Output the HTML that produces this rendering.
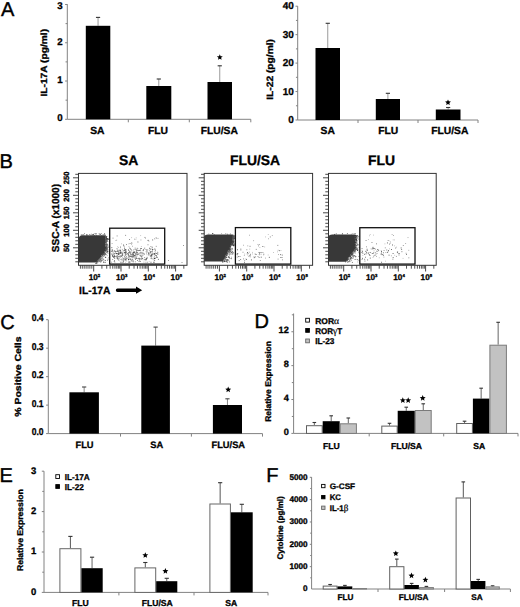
<!DOCTYPE html>
<html><head><meta charset="utf-8"><style>
html,body{margin:0;padding:0;background:#fff;}
svg{display:block;font-family:"Liberation Sans",sans-serif;}
text[font-weight="bold"]{stroke:#000;stroke-width:0.3px;}
text[font-weight="normal"]{stroke:#000;stroke-width:0.4px;}
text.r{stroke-width:0.32px;}
</style></head><body>
<svg width="520" height="607" viewBox="0 0 520 607" text-rendering="geometricPrecision">
<rect width="520" height="607" fill="#fff"/>
<text x="0.9" y="15.8" font-size="20" text-anchor="start" font-weight="normal" fill="#000">A</text>
<line x1="67.3" y1="4.2" x2="67.3" y2="119.3" stroke="#828282" stroke-width="1"/>
<line x1="65.1" y1="119.3" x2="67.3" y2="119.3" stroke="#828282" stroke-width="1"/>
<line x1="65.1" y1="81.03" x2="67.3" y2="81.03" stroke="#828282" stroke-width="1"/>
<line x1="65.1" y1="42.76" x2="67.3" y2="42.76" stroke="#828282" stroke-width="1"/>
<line x1="65.1" y1="4.49" x2="67.3" y2="4.49" stroke="#828282" stroke-width="1"/>
<line x1="65.54" y1="100.16" x2="67.3" y2="100.16" stroke="#828282" stroke-width="1"/>
<line x1="65.54" y1="61.89" x2="67.3" y2="61.89" stroke="#828282" stroke-width="1"/>
<line x1="65.54" y1="23.62" x2="67.3" y2="23.62" stroke="#828282" stroke-width="1"/>
<text x="62.6" y="121.47" font-size="9.7" text-anchor="end" font-weight="bold" fill="#000">0</text>
<text x="62.6" y="83.2" font-size="9.7" text-anchor="end" font-weight="bold" fill="#000">1</text>
<text x="62.6" y="44.93" font-size="9.7" text-anchor="end" font-weight="bold" fill="#000">2</text>
<text x="62.6" y="8.66" font-size="9.7" text-anchor="end" font-weight="bold" fill="#000">3</text>
<line x1="67.3" y1="119.3" x2="250.8" y2="119.3" stroke="#828282" stroke-width="1"/>
<line x1="128.3" y1="119.3" x2="128.3" y2="122.3" stroke="#828282" stroke-width="1"/>
<line x1="189.3" y1="119.3" x2="189.3" y2="122.3" stroke="#828282" stroke-width="1"/>
<line x1="250.8" y1="119.3" x2="250.8" y2="122.3" stroke="#828282" stroke-width="1"/>
<line x1="98.05" y1="17.4" x2="98.05" y2="25.8" stroke="#9a9a9a" stroke-width="1"/>
<line x1="95.95" y1="17.4" x2="100.15" y2="17.4" stroke="#333" stroke-width="1.1"/>
<rect x="85.8" y="25.8" width="24.5" height="93.5" fill="#000"/>
<line x1="158.8" y1="79" x2="158.8" y2="86" stroke="#9a9a9a" stroke-width="1"/>
<line x1="156.7" y1="79" x2="160.9" y2="79" stroke="#333" stroke-width="1.1"/>
<rect x="146.3" y="86" width="25" height="33.3" fill="#000"/>
<line x1="219.75" y1="65.8" x2="219.75" y2="82" stroke="#9a9a9a" stroke-width="1"/>
<line x1="217.65" y1="65.8" x2="221.85" y2="65.8" stroke="#333" stroke-width="1.1"/>
<rect x="207.5" y="82" width="24.5" height="37.3" fill="#000"/>
<polygon points="219.8,54.2 220.62,56.17 222.75,56.34 221.13,57.73 221.62,59.81 219.8,58.7 217.98,59.81 218.47,57.73 216.85,56.34 218.98,56.17" fill="#000"/>
<text x="97.3" y="133.6" font-size="10.3" text-anchor="middle" font-weight="bold" fill="#000">SA</text>
<text x="158.05" y="133.6" font-size="10.3" text-anchor="middle" font-weight="bold" fill="#000">FLU</text>
<text x="219.25" y="133.6" font-size="10.3" text-anchor="middle" font-weight="bold" fill="#000">FLU/SA</text>
<text class="r" transform="translate(47.4,62.75) rotate(-90)" font-size="9.0" text-anchor="middle" font-weight="bold" textLength="67.6" lengthAdjust="spacingAndGlyphs">IL-17A (pg/ml)</text>
<line x1="297.7" y1="6.2" x2="297.7" y2="120" stroke="#828282" stroke-width="1"/>
<line x1="295.5" y1="120" x2="297.7" y2="120" stroke="#828282" stroke-width="1"/>
<line x1="295.5" y1="91.55" x2="297.7" y2="91.55" stroke="#828282" stroke-width="1"/>
<line x1="295.5" y1="63.1" x2="297.7" y2="63.1" stroke="#828282" stroke-width="1"/>
<line x1="295.5" y1="34.65" x2="297.7" y2="34.65" stroke="#828282" stroke-width="1"/>
<line x1="295.5" y1="6.2" x2="297.7" y2="6.2" stroke="#828282" stroke-width="1"/>
<line x1="295.94" y1="105.78" x2="297.7" y2="105.78" stroke="#828282" stroke-width="1"/>
<line x1="295.94" y1="77.32" x2="297.7" y2="77.32" stroke="#828282" stroke-width="1"/>
<line x1="295.94" y1="48.88" x2="297.7" y2="48.88" stroke="#828282" stroke-width="1"/>
<line x1="295.94" y1="20.42" x2="297.7" y2="20.42" stroke="#828282" stroke-width="1"/>
<text x="293.9" y="123.18" font-size="10" text-anchor="end" font-weight="bold" fill="#000">0</text>
<text x="293.9" y="94.73" font-size="10" text-anchor="end" font-weight="bold" fill="#000">10</text>
<text x="293.9" y="66.28" font-size="10" text-anchor="end" font-weight="bold" fill="#000">20</text>
<text x="293.9" y="37.83" font-size="10" text-anchor="end" font-weight="bold" fill="#000">30</text>
<text x="293.9" y="9.38" font-size="10" text-anchor="end" font-weight="bold" fill="#000">40</text>
<line x1="297.7" y1="120" x2="478" y2="120" stroke="#828282" stroke-width="1"/>
<line x1="358" y1="120" x2="358" y2="123" stroke="#828282" stroke-width="1"/>
<line x1="418" y1="120" x2="418" y2="123" stroke="#828282" stroke-width="1"/>
<line x1="478" y1="120" x2="478" y2="123" stroke="#828282" stroke-width="1"/>
<line x1="327.75" y1="23.3" x2="327.75" y2="48" stroke="#9a9a9a" stroke-width="1"/>
<line x1="325.65" y1="23.3" x2="329.85" y2="23.3" stroke="#333" stroke-width="1.1"/>
<rect x="315.5" y="48" width="24.5" height="72" fill="#000"/>
<line x1="387.9" y1="93.3" x2="387.9" y2="99" stroke="#9a9a9a" stroke-width="1"/>
<line x1="385.8" y1="93.3" x2="390" y2="93.3" stroke="#333" stroke-width="1.1"/>
<rect x="375.8" y="99" width="24.2" height="21" fill="#000"/>
<line x1="448.15" y1="107.5" x2="448.15" y2="109.5" stroke="#9a9a9a" stroke-width="1"/>
<line x1="446.05" y1="107.5" x2="450.25" y2="107.5" stroke="#333" stroke-width="1.1"/>
<rect x="435.8" y="109.5" width="24.7" height="10.5" fill="#000"/>
<polygon points="448,99.4 448.82,101.37 450.95,101.54 449.33,102.93 449.82,105.01 448,103.9 446.18,105.01 446.67,102.93 445.05,101.54 447.18,101.37" fill="#000"/>
<text x="327.7" y="133.9" font-size="10.3" text-anchor="middle" font-weight="bold" fill="#000">SA</text>
<text x="388.3" y="133.9" font-size="10.3" text-anchor="middle" font-weight="bold" fill="#000">FLU</text>
<text x="449.75" y="133.9" font-size="10.3" text-anchor="middle" font-weight="bold" fill="#000">FLU/SA</text>
<text class="r" transform="translate(273.4,69.4) rotate(-90)" font-size="9.2" text-anchor="middle" font-weight="bold" textLength="60.8" lengthAdjust="spacingAndGlyphs">IL-22 (pg/ml)</text>
<text x="-0.4" y="167.7" font-size="20" text-anchor="start" font-weight="normal" fill="#000">B</text>
<line x1="75.3" y1="261.8" x2="78.5" y2="261.8" stroke="#333" stroke-width="0.9"/>
<line x1="75.3" y1="258.3" x2="78.5" y2="258.3" stroke="#333" stroke-width="0.9"/>
<line x1="75.3" y1="254.8" x2="78.5" y2="254.8" stroke="#333" stroke-width="0.9"/>
<line x1="75.3" y1="251.3" x2="78.5" y2="251.3" stroke="#333" stroke-width="0.9"/>
<line x1="73" y1="247.8" x2="78.5" y2="247.8" stroke="#333" stroke-width="0.9"/>
<line x1="75.3" y1="244.3" x2="78.5" y2="244.3" stroke="#333" stroke-width="0.9"/>
<line x1="75.3" y1="240.8" x2="78.5" y2="240.8" stroke="#333" stroke-width="0.9"/>
<line x1="75.3" y1="237.3" x2="78.5" y2="237.3" stroke="#333" stroke-width="0.9"/>
<line x1="75.3" y1="233.8" x2="78.5" y2="233.8" stroke="#333" stroke-width="0.9"/>
<line x1="73" y1="230.3" x2="78.5" y2="230.3" stroke="#333" stroke-width="0.9"/>
<line x1="75.3" y1="226.8" x2="78.5" y2="226.8" stroke="#333" stroke-width="0.9"/>
<line x1="75.3" y1="223.3" x2="78.5" y2="223.3" stroke="#333" stroke-width="0.9"/>
<line x1="75.3" y1="219.8" x2="78.5" y2="219.8" stroke="#333" stroke-width="0.9"/>
<line x1="75.3" y1="216.3" x2="78.5" y2="216.3" stroke="#333" stroke-width="0.9"/>
<line x1="73" y1="212.8" x2="78.5" y2="212.8" stroke="#333" stroke-width="0.9"/>
<line x1="75.3" y1="209.3" x2="78.5" y2="209.3" stroke="#333" stroke-width="0.9"/>
<line x1="75.3" y1="205.8" x2="78.5" y2="205.8" stroke="#333" stroke-width="0.9"/>
<line x1="75.3" y1="202.3" x2="78.5" y2="202.3" stroke="#333" stroke-width="0.9"/>
<line x1="75.3" y1="198.8" x2="78.5" y2="198.8" stroke="#333" stroke-width="0.9"/>
<line x1="73" y1="195.3" x2="78.5" y2="195.3" stroke="#333" stroke-width="0.9"/>
<line x1="75.3" y1="191.8" x2="78.5" y2="191.8" stroke="#333" stroke-width="0.9"/>
<line x1="75.3" y1="188.3" x2="78.5" y2="188.3" stroke="#333" stroke-width="0.9"/>
<line x1="75.3" y1="184.8" x2="78.5" y2="184.8" stroke="#333" stroke-width="0.9"/>
<line x1="75.3" y1="181.3" x2="78.5" y2="181.3" stroke="#333" stroke-width="0.9"/>
<line x1="73" y1="177.8" x2="78.5" y2="177.8" stroke="#333" stroke-width="0.9"/>
<line x1="75.3" y1="174.3" x2="78.5" y2="174.3" stroke="#333" stroke-width="0.9"/>
<line x1="93.7" y1="265.3" x2="93.7" y2="271.5" stroke="#333" stroke-width="0.9"/>
<line x1="101.92" y1="265.3" x2="101.92" y2="268.7" stroke="#333" stroke-width="0.85"/>
<line x1="106.73" y1="265.3" x2="106.73" y2="268.7" stroke="#333" stroke-width="0.85"/>
<line x1="110.14" y1="265.3" x2="110.14" y2="268.7" stroke="#333" stroke-width="0.85"/>
<line x1="112.78" y1="265.3" x2="112.78" y2="268.7" stroke="#333" stroke-width="0.85"/>
<line x1="114.94" y1="265.3" x2="114.94" y2="268.7" stroke="#333" stroke-width="0.85"/>
<line x1="116.77" y1="265.3" x2="116.77" y2="268.7" stroke="#333" stroke-width="0.85"/>
<line x1="118.35" y1="265.3" x2="118.35" y2="268.7" stroke="#333" stroke-width="0.85"/>
<line x1="119.75" y1="265.3" x2="119.75" y2="268.7" stroke="#333" stroke-width="0.85"/>
<line x1="121" y1="265.3" x2="121" y2="271.5" stroke="#333" stroke-width="0.9"/>
<line x1="129.22" y1="265.3" x2="129.22" y2="268.7" stroke="#333" stroke-width="0.85"/>
<line x1="134.03" y1="265.3" x2="134.03" y2="268.7" stroke="#333" stroke-width="0.85"/>
<line x1="137.44" y1="265.3" x2="137.44" y2="268.7" stroke="#333" stroke-width="0.85"/>
<line x1="140.08" y1="265.3" x2="140.08" y2="268.7" stroke="#333" stroke-width="0.85"/>
<line x1="142.24" y1="265.3" x2="142.24" y2="268.7" stroke="#333" stroke-width="0.85"/>
<line x1="144.07" y1="265.3" x2="144.07" y2="268.7" stroke="#333" stroke-width="0.85"/>
<line x1="145.65" y1="265.3" x2="145.65" y2="268.7" stroke="#333" stroke-width="0.85"/>
<line x1="147.05" y1="265.3" x2="147.05" y2="268.7" stroke="#333" stroke-width="0.85"/>
<line x1="148.3" y1="265.3" x2="148.3" y2="271.5" stroke="#333" stroke-width="0.9"/>
<line x1="156.52" y1="265.3" x2="156.52" y2="268.7" stroke="#333" stroke-width="0.85"/>
<line x1="161.33" y1="265.3" x2="161.33" y2="268.7" stroke="#333" stroke-width="0.85"/>
<line x1="164.74" y1="265.3" x2="164.74" y2="268.7" stroke="#333" stroke-width="0.85"/>
<line x1="167.38" y1="265.3" x2="167.38" y2="268.7" stroke="#333" stroke-width="0.85"/>
<line x1="169.54" y1="265.3" x2="169.54" y2="268.7" stroke="#333" stroke-width="0.85"/>
<line x1="171.37" y1="265.3" x2="171.37" y2="268.7" stroke="#333" stroke-width="0.85"/>
<line x1="172.95" y1="265.3" x2="172.95" y2="268.7" stroke="#333" stroke-width="0.85"/>
<line x1="174.35" y1="265.3" x2="174.35" y2="268.7" stroke="#333" stroke-width="0.85"/>
<line x1="175.6" y1="265.3" x2="175.6" y2="271.5" stroke="#333" stroke-width="0.9"/>
<line x1="183.82" y1="265.3" x2="183.82" y2="268.7" stroke="#333" stroke-width="0.85"/>
<line x1="91.8" y1="265.3" x2="91.8" y2="268.7" stroke="#333" stroke-width="0.85"/>
<line x1="89.9" y1="265.3" x2="89.9" y2="268.7" stroke="#333" stroke-width="0.85"/>
<line x1="88" y1="265.3" x2="88" y2="268.7" stroke="#333" stroke-width="0.85"/>
<line x1="86.1" y1="265.3" x2="86.1" y2="268.7" stroke="#333" stroke-width="0.85"/>
<line x1="84.2" y1="265.3" x2="84.2" y2="268.7" stroke="#333" stroke-width="0.85"/>
<line x1="82.3" y1="265.3" x2="82.3" y2="268.7" stroke="#333" stroke-width="0.85"/>
<line x1="80.4" y1="265.3" x2="80.4" y2="268.7" stroke="#333" stroke-width="0.85"/>
<text x="88.7" y="279.7" font-size="8.2" font-weight="bold">10<tspan font-size="4.3" dy="-2.6">2</tspan></text>
<text x="116" y="279.7" font-size="8.2" font-weight="bold">10<tspan font-size="4.3" dy="-2.6">3</tspan></text>
<text x="143.3" y="279.7" font-size="8.2" font-weight="bold">10<tspan font-size="4.3" dy="-2.6">4</tspan></text>
<text x="170.6" y="279.7" font-size="8.2" font-weight="bold">10<tspan font-size="4.3" dy="-2.6">5</tspan></text>
<text class="r" transform="translate(68.5,247.8) rotate(-90)" font-size="7.6" text-anchor="middle" font-weight="bold">50</text>
<text class="r" transform="translate(68.5,230.3) rotate(-90)" font-size="7.6" text-anchor="middle" font-weight="bold">100</text>
<text class="r" transform="translate(68.5,212.8) rotate(-90)" font-size="7.6" text-anchor="middle" font-weight="bold">150</text>
<text class="r" transform="translate(68.5,195.3) rotate(-90)" font-size="7.6" text-anchor="middle" font-weight="bold">200</text>
<text class="r" transform="translate(68.5,177.8) rotate(-90)" font-size="7.6" text-anchor="middle" font-weight="bold">250</text>
<path d="M78.6,262.6 L78.6,237.5 Q79.4,235.5 83,235.3 L105.1,235.3 Q106.3,235.3 106.3,236.5 L106.3,250.3 L96.8,262.6 Z" fill="#383838"/>
<rect x="105.89" y="242.3" width="0.8" height="0.8" fill="#666"/>
<rect x="99.19" y="260.81" width="0.8" height="0.8" fill="#333"/>
<rect x="107.05" y="252.33" width="0.8" height="0.8" fill="#888"/>
<rect x="105.37" y="242.88" width="0.8" height="0.8" fill="#888"/>
<rect x="105.74" y="250.57" width="0.8" height="0.8" fill="#888"/>
<rect x="103.1" y="253.25" width="0.8" height="0.8" fill="#444"/>
<rect x="100.32" y="259.5" width="0.8" height="0.8" fill="#333"/>
<rect x="102.27" y="254.13" width="0.8" height="0.8" fill="#333"/>
<rect x="105.13" y="244.02" width="0.8" height="0.8" fill="#666"/>
<rect x="106.37" y="248.71" width="0.8" height="0.8" fill="#888"/>
<rect x="106.72" y="255.3" width="0.8" height="0.8" fill="#888"/>
<rect x="102.88" y="255.68" width="0.8" height="0.8" fill="#444"/>
<rect x="98.1" y="259.79" width="0.8" height="0.8" fill="#444"/>
<rect x="105.4" y="249.31" width="0.8" height="0.8" fill="#888"/>
<rect x="104.84" y="257.07" width="0.8" height="0.8" fill="#888"/>
<rect x="105.59" y="249.65" width="0.8" height="0.8" fill="#666"/>
<rect x="105.57" y="250.38" width="0.8" height="0.8" fill="#444"/>
<rect x="101.08" y="260.48" width="0.8" height="0.8" fill="#333"/>
<rect x="102.48" y="254.13" width="0.8" height="0.8" fill="#666"/>
<rect x="104.76" y="262.13" width="0.8" height="0.8" fill="#333"/>
<rect x="101.76" y="255.29" width="0.8" height="0.8" fill="#666"/>
<rect x="105.17" y="243.58" width="0.8" height="0.8" fill="#888"/>
<rect x="106.71" y="238.22" width="0.8" height="0.8" fill="#888"/>
<rect x="97.45" y="260.29" width="0.8" height="0.8" fill="#888"/>
<rect x="105.25" y="256.79" width="0.8" height="0.8" fill="#333"/>
<rect x="105.65" y="252.32" width="0.8" height="0.8" fill="#888"/>
<rect x="102.03" y="255.41" width="0.8" height="0.8" fill="#666"/>
<rect x="105.18" y="244.25" width="0.8" height="0.8" fill="#333"/>
<rect x="105.41" y="243.76" width="0.8" height="0.8" fill="#333"/>
<rect x="97.23" y="262.55" width="0.8" height="0.8" fill="#666"/>
<rect x="104.49" y="261.97" width="0.8" height="0.8" fill="#888"/>
<rect x="107.14" y="246.09" width="0.8" height="0.8" fill="#888"/>
<rect x="104.27" y="253.38" width="0.8" height="0.8" fill="#333"/>
<rect x="107.64" y="252.73" width="0.8" height="0.8" fill="#666"/>
<rect x="106.37" y="247.57" width="0.8" height="0.8" fill="#444"/>
<rect x="98.6" y="261.36" width="0.8" height="0.8" fill="#666"/>
<rect x="105.9" y="250.03" width="0.8" height="0.8" fill="#333"/>
<rect x="105.57" y="244.4" width="0.8" height="0.8" fill="#444"/>
<rect x="106.09" y="237.44" width="0.8" height="0.8" fill="#888"/>
<rect x="107.59" y="245.43" width="0.8" height="0.8" fill="#666"/>
<rect x="100.79" y="255.95" width="0.8" height="0.8" fill="#333"/>
<rect x="96.25" y="261.87" width="0.8" height="0.8" fill="#666"/>
<rect x="105.71" y="242.66" width="0.8" height="0.8" fill="#666"/>
<rect x="105.3" y="240.64" width="0.8" height="0.8" fill="#666"/>
<rect x="99.42" y="258.84" width="0.8" height="0.8" fill="#888"/>
<rect x="106.78" y="238.66" width="0.8" height="0.8" fill="#444"/>
<rect x="105.35" y="244.26" width="0.8" height="0.8" fill="#666"/>
<rect x="105.31" y="242.32" width="0.8" height="0.8" fill="#888"/>
<rect x="102.78" y="253.53" width="0.8" height="0.8" fill="#666"/>
<rect x="100.38" y="261.71" width="0.8" height="0.8" fill="#444"/>
<rect x="107.03" y="247.77" width="0.8" height="0.8" fill="#444"/>
<rect x="106.46" y="237.98" width="0.8" height="0.8" fill="#444"/>
<rect x="99.58" y="259.96" width="0.8" height="0.8" fill="#444"/>
<rect x="99.8" y="257.29" width="0.8" height="0.8" fill="#444"/>
<rect x="106.91" y="244.4" width="0.8" height="0.8" fill="#444"/>
<rect x="99.38" y="259.38" width="0.8" height="0.8" fill="#333"/>
<rect x="100.46" y="257.81" width="0.8" height="0.8" fill="#444"/>
<rect x="105.83" y="247.3" width="0.8" height="0.8" fill="#666"/>
<rect x="106.11" y="248.49" width="0.8" height="0.8" fill="#666"/>
<rect x="105.63" y="247.26" width="0.8" height="0.8" fill="#888"/>
<rect x="105.1" y="240.06" width="0.8" height="0.8" fill="#888"/>
<rect x="101.25" y="255.38" width="0.8" height="0.8" fill="#888"/>
<rect x="101.85" y="258.64" width="0.8" height="0.8" fill="#666"/>
<rect x="107.21" y="250.65" width="0.8" height="0.8" fill="#333"/>
<rect x="105.38" y="239.08" width="0.8" height="0.8" fill="#333"/>
<rect x="101.22" y="260.47" width="0.8" height="0.8" fill="#444"/>
<rect x="105.01" y="260.28" width="0.8" height="0.8" fill="#333"/>
<rect x="106.47" y="236.16" width="0.8" height="0.8" fill="#444"/>
<rect x="105.37" y="249.54" width="0.8" height="0.8" fill="#333"/>
<rect x="105.63" y="250.13" width="0.8" height="0.8" fill="#333"/>
<rect x="105.39" y="245.12" width="0.8" height="0.8" fill="#888"/>
<rect x="99.36" y="257.96" width="0.8" height="0.8" fill="#444"/>
<rect x="105.86" y="241.19" width="0.8" height="0.8" fill="#333"/>
<rect x="106.67" y="240.48" width="0.8" height="0.8" fill="#444"/>
<rect x="98.96" y="258.28" width="0.8" height="0.8" fill="#888"/>
<rect x="105.42" y="237.16" width="0.8" height="0.8" fill="#666"/>
<rect x="104.4" y="252.67" width="0.8" height="0.8" fill="#333"/>
<rect x="106.6" y="248.71" width="0.8" height="0.8" fill="#333"/>
<rect x="102.8" y="259.2" width="0.8" height="0.8" fill="#333"/>
<rect x="105.17" y="239.2" width="0.8" height="0.8" fill="#333"/>
<rect x="98.56" y="259.13" width="0.8" height="0.8" fill="#888"/>
<rect x="105.48" y="244.42" width="0.8" height="0.8" fill="#666"/>
<rect x="105.59" y="246.33" width="0.8" height="0.8" fill="#666"/>
<rect x="105.31" y="245.65" width="0.8" height="0.8" fill="#666"/>
<rect x="105.24" y="247.5" width="0.8" height="0.8" fill="#333"/>
<rect x="102.24" y="255.35" width="0.8" height="0.8" fill="#333"/>
<rect x="104.4" y="251.27" width="0.8" height="0.8" fill="#888"/>
<rect x="105.79" y="252.3" width="0.8" height="0.8" fill="#888"/>
<rect x="102.95" y="253.18" width="0.8" height="0.8" fill="#888"/>
<rect x="106.09" y="237.25" width="0.8" height="0.8" fill="#666"/>
<rect x="106.28" y="247.28" width="0.8" height="0.8" fill="#888"/>
<rect x="105.35" y="236.29" width="0.8" height="0.8" fill="#666"/>
<rect x="101.79" y="254.78" width="0.8" height="0.8" fill="#888"/>
<rect x="105.24" y="241.93" width="0.8" height="0.8" fill="#333"/>
<rect x="98.22" y="261.37" width="0.8" height="0.8" fill="#666"/>
<rect x="106.27" y="239.12" width="0.8" height="0.8" fill="#888"/>
<rect x="104.69" y="254.02" width="0.8" height="0.8" fill="#333"/>
<rect x="102.68" y="257.96" width="0.8" height="0.8" fill="#888"/>
<rect x="106.59" y="239.72" width="0.8" height="0.8" fill="#333"/>
<rect x="105.93" y="250.19" width="0.8" height="0.8" fill="#888"/>
<rect x="105.12" y="240.69" width="0.8" height="0.8" fill="#333"/>
<rect x="105.22" y="236.5" width="0.8" height="0.8" fill="#888"/>
<rect x="107.59" y="258.63" width="0.8" height="0.8" fill="#666"/>
<rect x="99.56" y="257.61" width="0.8" height="0.8" fill="#444"/>
<rect x="106.48" y="238.71" width="0.8" height="0.8" fill="#333"/>
<rect x="106.98" y="250.82" width="0.8" height="0.8" fill="#444"/>
<rect x="99.64" y="258.41" width="0.8" height="0.8" fill="#444"/>
<rect x="103.72" y="253.44" width="0.8" height="0.8" fill="#888"/>
<rect x="106.01" y="242.7" width="0.8" height="0.8" fill="#666"/>
<rect x="108.5" y="251" width="0.8" height="0.8" fill="#888"/>
<rect x="108.71" y="249.46" width="0.8" height="0.8" fill="#888"/>
<rect x="108.67" y="258.83" width="0.8" height="0.8" fill="#888"/>
<rect x="104.57" y="254.66" width="0.8" height="0.8" fill="#888"/>
<rect x="105.61" y="240.06" width="0.8" height="0.8" fill="#444"/>
<rect x="105.79" y="240.24" width="0.8" height="0.8" fill="#888"/>
<rect x="99.48" y="260.82" width="0.8" height="0.8" fill="#888"/>
<rect x="106.57" y="251.81" width="0.8" height="0.8" fill="#444"/>
<rect x="105.32" y="243.1" width="0.8" height="0.8" fill="#666"/>
<rect x="103.37" y="261.32" width="0.8" height="0.8" fill="#666"/>
<rect x="105.79" y="254.13" width="0.8" height="0.8" fill="#666"/>
<rect x="98.74" y="260.08" width="0.8" height="0.8" fill="#666"/>
<rect x="105.58" y="248.89" width="0.8" height="0.8" fill="#444"/>
<rect x="104.62" y="251.36" width="0.8" height="0.8" fill="#888"/>
<rect x="100.37" y="256.94" width="0.8" height="0.8" fill="#888"/>
<rect x="101.99" y="254.95" width="0.8" height="0.8" fill="#333"/>
<rect x="106.38" y="248.94" width="0.8" height="0.8" fill="#888"/>
<rect x="105.33" y="257.18" width="0.8" height="0.8" fill="#333"/>
<rect x="105.36" y="248.56" width="0.8" height="0.8" fill="#444"/>
<rect x="105.25" y="253.5" width="0.8" height="0.8" fill="#333"/>
<rect x="103.21" y="261.97" width="0.8" height="0.8" fill="#444"/>
<rect x="102.42" y="260.1" width="0.8" height="0.8" fill="#444"/>
<rect x="106.32" y="240.91" width="0.8" height="0.8" fill="#333"/>
<rect x="98.31" y="260.36" width="0.8" height="0.8" fill="#333"/>
<rect x="105.65" y="244.36" width="0.8" height="0.8" fill="#333"/>
<rect x="105.41" y="239.02" width="0.8" height="0.8" fill="#666"/>
<rect x="105.7" y="236.79" width="0.8" height="0.8" fill="#666"/>
<rect x="105.51" y="235.99" width="0.8" height="0.8" fill="#888"/>
<rect x="105.18" y="246.17" width="0.8" height="0.8" fill="#888"/>
<rect x="105.89" y="246.47" width="0.8" height="0.8" fill="#333"/>
<rect x="97.93" y="259.92" width="0.8" height="0.8" fill="#888"/>
<rect x="107.28" y="238.87" width="0.8" height="0.8" fill="#666"/>
<rect x="107.94" y="238.45" width="0.8" height="0.8" fill="#666"/>
<rect x="102.88" y="254.32" width="0.8" height="0.8" fill="#888"/>
<rect x="106.23" y="243.87" width="0.8" height="0.8" fill="#666"/>
<rect x="107.99" y="238.73" width="0.8" height="0.8" fill="#666"/>
<rect x="103.57" y="254.17" width="0.8" height="0.8" fill="#333"/>
<rect x="103.56" y="254.01" width="0.8" height="0.8" fill="#333"/>
<rect x="103.63" y="255.4" width="0.8" height="0.8" fill="#444"/>
<rect x="104.94" y="253.43" width="0.8" height="0.8" fill="#444"/>
<rect x="107.31" y="240.69" width="0.8" height="0.8" fill="#888"/>
<rect x="107.79" y="239.16" width="0.8" height="0.8" fill="#444"/>
<rect x="100.47" y="260.94" width="0.8" height="0.8" fill="#888"/>
<rect x="105.8" y="250.95" width="0.8" height="0.8" fill="#888"/>
<rect x="106.62" y="248.97" width="0.8" height="0.8" fill="#333"/>
<rect x="105.3" y="238.73" width="0.8" height="0.8" fill="#888"/>
<rect x="105.41" y="245.61" width="0.8" height="0.8" fill="#888"/>
<rect x="105.25" y="237.26" width="0.8" height="0.8" fill="#888"/>
<rect x="105.38" y="249.58" width="0.8" height="0.8" fill="#666"/>
<rect x="107.06" y="259.69" width="0.8" height="0.8" fill="#888"/>
<rect x="106.46" y="250.58" width="0.8" height="0.8" fill="#666"/>
<rect x="105.99" y="239.94" width="0.8" height="0.8" fill="#333"/>
<rect x="107.31" y="251.21" width="0.8" height="0.8" fill="#333"/>
<rect x="105.31" y="240.85" width="0.8" height="0.8" fill="#888"/>
<rect x="103.1" y="254.1" width="0.8" height="0.8" fill="#444"/>
<rect x="104.04" y="251.96" width="0.8" height="0.8" fill="#888"/>
<rect x="101.59" y="257.59" width="0.8" height="0.8" fill="#444"/>
<rect x="104.59" y="251.32" width="0.8" height="0.8" fill="#666"/>
<rect x="105.45" y="245.89" width="0.8" height="0.8" fill="#888"/>
<rect x="107.28" y="260.13" width="0.8" height="0.8" fill="#888"/>
<rect x="107.47" y="244.43" width="0.8" height="0.8" fill="#666"/>
<rect x="102.53" y="254.55" width="0.8" height="0.8" fill="#888"/>
<rect x="105.31" y="236.62" width="0.8" height="0.8" fill="#333"/>
<rect x="106.51" y="238.73" width="0.8" height="0.8" fill="#444"/>
<rect x="105.84" y="249.23" width="0.8" height="0.8" fill="#888"/>
<rect x="106.62" y="241.23" width="0.8" height="0.8" fill="#444"/>
<rect x="105.79" y="236.81" width="0.8" height="0.8" fill="#888"/>
<rect x="105.43" y="238.85" width="0.8" height="0.8" fill="#444"/>
<rect x="106.67" y="239.5" width="0.8" height="0.8" fill="#333"/>
<rect x="106.06" y="236.5" width="0.8" height="0.8" fill="#333"/>
<rect x="105.12" y="249.41" width="0.8" height="0.8" fill="#666"/>
<rect x="107.14" y="244.62" width="0.8" height="0.8" fill="#444"/>
<rect x="106.93" y="238" width="0.8" height="0.8" fill="#333"/>
<rect x="104.12" y="255.35" width="0.8" height="0.8" fill="#666"/>
<rect x="96.17" y="263.04" width="0.8" height="0.8" fill="#333"/>
<rect x="99.91" y="259.32" width="0.8" height="0.8" fill="#444"/>
<rect x="105.22" y="249.04" width="0.8" height="0.8" fill="#333"/>
<rect x="106.97" y="246.95" width="0.8" height="0.8" fill="#444"/>
<rect x="105.74" y="246.49" width="0.8" height="0.8" fill="#333"/>
<rect x="105.54" y="250.47" width="0.8" height="0.8" fill="#888"/>
<rect x="105.72" y="244.12" width="0.8" height="0.8" fill="#888"/>
<rect x="105.71" y="247.77" width="0.8" height="0.8" fill="#333"/>
<rect x="102.13" y="255.45" width="0.8" height="0.8" fill="#666"/>
<rect x="105.55" y="248.02" width="0.8" height="0.8" fill="#888"/>
<rect x="105.1" y="241.91" width="0.8" height="0.8" fill="#444"/>
<rect x="105.56" y="242.86" width="0.8" height="0.8" fill="#888"/>
<rect x="105.22" y="250.37" width="0.8" height="0.8" fill="#333"/>
<rect x="105.62" y="240.46" width="0.8" height="0.8" fill="#444"/>
<rect x="103.12" y="253.18" width="0.8" height="0.8" fill="#444"/>
<rect x="105.3" y="247.89" width="0.8" height="0.8" fill="#333"/>
<rect x="105.48" y="246.8" width="0.8" height="0.8" fill="#333"/>
<rect x="101.58" y="255" width="0.8" height="0.8" fill="#888"/>
<rect x="105.78" y="236.87" width="0.8" height="0.8" fill="#444"/>
<rect x="105.59" y="242.39" width="0.8" height="0.8" fill="#444"/>
<rect x="106.07" y="240.3" width="0.8" height="0.8" fill="#666"/>
<rect x="100.14" y="260.72" width="0.8" height="0.8" fill="#666"/>
<rect x="106.65" y="243.31" width="0.8" height="0.8" fill="#888"/>
<rect x="108.24" y="257.35" width="0.8" height="0.8" fill="#888"/>
<rect x="105.41" y="242.62" width="0.8" height="0.8" fill="#666"/>
<rect x="103.72" y="252.97" width="0.8" height="0.8" fill="#333"/>
<rect x="105.67" y="237.35" width="0.8" height="0.8" fill="#333"/>
<rect x="103.82" y="251.97" width="0.8" height="0.8" fill="#333"/>
<rect x="101.98" y="254.39" width="0.8" height="0.8" fill="#333"/>
<rect x="105.31" y="248.95" width="0.8" height="0.8" fill="#666"/>
<rect x="108.74" y="241.28" width="0.8" height="0.8" fill="#888"/>
<rect x="105.75" y="245.08" width="0.8" height="0.8" fill="#666"/>
<rect x="96.6" y="261.46" width="0.8" height="0.8" fill="#666"/>
<rect x="102.84" y="256.32" width="0.8" height="0.8" fill="#888"/>
<rect x="105.45" y="238.2" width="0.8" height="0.8" fill="#888"/>
<rect x="105.59" y="238.93" width="0.8" height="0.8" fill="#666"/>
<rect x="106.54" y="250.45" width="0.8" height="0.8" fill="#888"/>
<rect x="106.45" y="240.57" width="0.8" height="0.8" fill="#888"/>
<rect x="101.04" y="258.61" width="0.8" height="0.8" fill="#444"/>
<rect x="105.64" y="245.71" width="0.8" height="0.8" fill="#444"/>
<rect x="106.31" y="247.93" width="0.8" height="0.8" fill="#666"/>
<rect x="105.29" y="243.16" width="0.8" height="0.8" fill="#888"/>
<rect x="96.44" y="261.72" width="0.8" height="0.8" fill="#444"/>
<rect x="101.36" y="255.2" width="0.8" height="0.8" fill="#888"/>
<rect x="106.28" y="238.31" width="0.8" height="0.8" fill="#333"/>
<rect x="106.02" y="244.54" width="0.8" height="0.8" fill="#333"/>
<rect x="104.35" y="259.78" width="0.8" height="0.8" fill="#888"/>
<rect x="107.13" y="248.53" width="0.8" height="0.8" fill="#666"/>
<rect x="95.28" y="263.02" width="0.8" height="0.8" fill="#444"/>
<rect x="108.22" y="246.7" width="0.8" height="0.8" fill="#333"/>
<rect x="105.47" y="245.04" width="0.8" height="0.8" fill="#888"/>
<rect x="106.15" y="238.01" width="0.8" height="0.8" fill="#444"/>
<rect x="97.12" y="261.34" width="0.8" height="0.8" fill="#333"/>
<rect x="105.44" y="238.86" width="0.8" height="0.8" fill="#444"/>
<rect x="105.93" y="241.81" width="0.8" height="0.8" fill="#888"/>
<rect x="107.48" y="249.58" width="0.8" height="0.8" fill="#666"/>
<rect x="101.68" y="257.33" width="0.8" height="0.8" fill="#444"/>
<rect x="106.07" y="248.56" width="0.8" height="0.8" fill="#333"/>
<rect x="100.99" y="234.95" width="0.8" height="0.8" fill="#444"/>
<rect x="85.52" y="234.97" width="0.8" height="0.8" fill="#666"/>
<rect x="82.72" y="234.48" width="0.8" height="0.8" fill="#888"/>
<rect x="95.8" y="234.96" width="0.8" height="0.8" fill="#888"/>
<rect x="92.59" y="234.42" width="0.8" height="0.8" fill="#666"/>
<rect x="95.5" y="233.88" width="0.8" height="0.8" fill="#666"/>
<rect x="99.81" y="234.54" width="0.8" height="0.8" fill="#666"/>
<rect x="100.73" y="233.01" width="0.8" height="0.8" fill="#444"/>
<rect x="83.49" y="234.34" width="0.8" height="0.8" fill="#888"/>
<rect x="82.51" y="235.06" width="0.8" height="0.8" fill="#666"/>
<rect x="85.34" y="235.05" width="0.8" height="0.8" fill="#888"/>
<rect x="98.76" y="233.06" width="0.8" height="0.8" fill="#666"/>
<rect x="99.97" y="234.11" width="0.8" height="0.8" fill="#444"/>
<rect x="89.26" y="234.66" width="0.8" height="0.8" fill="#444"/>
<rect x="88.88" y="234.76" width="0.8" height="0.8" fill="#444"/>
<rect x="88.58" y="234.94" width="0.8" height="0.8" fill="#888"/>
<rect x="103.59" y="234.83" width="0.8" height="0.8" fill="#888"/>
<rect x="95.72" y="233.29" width="0.8" height="0.8" fill="#888"/>
<rect x="93.83" y="233.19" width="0.8" height="0.8" fill="#888"/>
<rect x="104.06" y="234.03" width="0.8" height="0.8" fill="#666"/>
<rect x="102.67" y="234.09" width="0.8" height="0.8" fill="#888"/>
<rect x="103.33" y="234.99" width="0.8" height="0.8" fill="#666"/>
<rect x="104.25" y="233.21" width="0.8" height="0.8" fill="#444"/>
<rect x="98.44" y="234.88" width="0.8" height="0.8" fill="#666"/>
<rect x="93.04" y="234.16" width="0.8" height="0.8" fill="#444"/>
<rect x="99.01" y="234.72" width="0.8" height="0.8" fill="#666"/>
<rect x="92.75" y="234.12" width="0.8" height="0.8" fill="#444"/>
<rect x="99.05" y="234.86" width="0.8" height="0.8" fill="#666"/>
<rect x="84.13" y="233.25" width="0.8" height="0.8" fill="#666"/>
<rect x="82.52" y="234.42" width="0.8" height="0.8" fill="#444"/>
<rect x="92.64" y="234.83" width="0.8" height="0.8" fill="#666"/>
<rect x="104.8" y="234.42" width="0.8" height="0.8" fill="#888"/>
<rect x="89.8" y="234.69" width="0.8" height="0.8" fill="#666"/>
<rect x="92.31" y="234.44" width="0.8" height="0.8" fill="#888"/>
<rect x="86.1" y="234.39" width="0.8" height="0.8" fill="#444"/>
<rect x="92.04" y="234.9" width="0.8" height="0.8" fill="#666"/>
<rect x="100.54" y="234.9" width="0.8" height="0.8" fill="#888"/>
<rect x="80.85" y="234.46" width="0.8" height="0.8" fill="#444"/>
<rect x="96.14" y="234.99" width="0.8" height="0.8" fill="#444"/>
<rect x="80.65" y="234.95" width="0.8" height="0.8" fill="#666"/>
<rect x="89.37" y="234.27" width="0.8" height="0.8" fill="#888"/>
<rect x="81.47" y="234.92" width="0.8" height="0.8" fill="#444"/>
<rect x="86.5" y="234.77" width="0.8" height="0.8" fill="#444"/>
<rect x="95.51" y="233.18" width="0.8" height="0.8" fill="#444"/>
<rect x="91.72" y="235" width="0.8" height="0.8" fill="#666"/>
<rect x="90.93" y="233.76" width="0.8" height="0.8" fill="#666"/>
<rect x="88.99" y="234.86" width="0.8" height="0.8" fill="#888"/>
<rect x="84.69" y="235.05" width="0.8" height="0.8" fill="#888"/>
<rect x="86.71" y="234.1" width="0.8" height="0.8" fill="#666"/>
<rect x="93.17" y="233.96" width="0.8" height="0.8" fill="#666"/>
<rect x="94.23" y="235" width="0.8" height="0.8" fill="#444"/>
<rect x="92.6" y="234.56" width="0.8" height="0.8" fill="#444"/>
<rect x="102.76" y="234.26" width="0.8" height="0.8" fill="#888"/>
<rect x="99.24" y="234.54" width="0.8" height="0.8" fill="#888"/>
<rect x="93.33" y="234.22" width="0.8" height="0.8" fill="#666"/>
<rect x="119.55" y="258.8" width="0.8" height="0.8" fill="#aaa"/>
<rect x="115.7" y="251.31" width="0.8" height="0.8" fill="#666"/>
<rect x="132.3" y="255.67" width="0.8" height="0.8" fill="#444"/>
<rect x="111.94" y="251.47" width="0.8" height="0.8" fill="#888"/>
<rect x="154.95" y="254.78" width="0.8" height="0.8" fill="#222"/>
<rect x="125.87" y="256.12" width="0.8" height="0.8" fill="#666"/>
<rect x="115.75" y="255.95" width="0.8" height="0.8" fill="#666"/>
<rect x="112.49" y="254.63" width="0.8" height="0.8" fill="#888"/>
<rect x="120.13" y="246.64" width="0.8" height="0.8" fill="#444"/>
<rect x="141.83" y="253.44" width="0.8" height="0.8" fill="#444"/>
<rect x="155.83" y="255.31" width="0.8" height="0.8" fill="#666"/>
<rect x="139.78" y="258.76" width="0.8" height="0.8" fill="#888"/>
<rect x="117.22" y="255.47" width="0.8" height="0.8" fill="#444"/>
<rect x="145.78" y="258.95" width="0.8" height="0.8" fill="#222"/>
<rect x="140.75" y="258.43" width="0.8" height="0.8" fill="#222"/>
<rect x="155.46" y="252.91" width="0.8" height="0.8" fill="#888"/>
<rect x="132.74" y="250.33" width="0.8" height="0.8" fill="#aaa"/>
<rect x="137.23" y="260.13" width="0.8" height="0.8" fill="#444"/>
<rect x="143.54" y="261.68" width="0.8" height="0.8" fill="#888"/>
<rect x="112.4" y="254.66" width="0.8" height="0.8" fill="#444"/>
<rect x="114.94" y="251.89" width="0.8" height="0.8" fill="#aaa"/>
<rect x="156.34" y="253.02" width="0.8" height="0.8" fill="#888"/>
<rect x="113.77" y="255.85" width="0.8" height="0.8" fill="#222"/>
<rect x="120.59" y="255.95" width="0.8" height="0.8" fill="#444"/>
<rect x="111.25" y="253.64" width="0.8" height="0.8" fill="#444"/>
<rect x="120.65" y="259.11" width="0.8" height="0.8" fill="#666"/>
<rect x="133.26" y="253.03" width="0.8" height="0.8" fill="#aaa"/>
<rect x="146.29" y="250.24" width="0.8" height="0.8" fill="#aaa"/>
<rect x="123.45" y="252.53" width="0.8" height="0.8" fill="#888"/>
<rect x="120.38" y="261.8" width="0.8" height="0.8" fill="#444"/>
<rect x="125.12" y="251.16" width="0.8" height="0.8" fill="#444"/>
<rect x="125.89" y="258.4" width="0.8" height="0.8" fill="#222"/>
<rect x="130.26" y="258.67" width="0.8" height="0.8" fill="#222"/>
<rect x="114.27" y="250.02" width="0.8" height="0.8" fill="#666"/>
<rect x="135.74" y="257.61" width="0.8" height="0.8" fill="#222"/>
<rect x="132.82" y="251.93" width="0.8" height="0.8" fill="#444"/>
<rect x="126.19" y="259.49" width="0.8" height="0.8" fill="#666"/>
<rect x="141.02" y="252.38" width="0.8" height="0.8" fill="#666"/>
<rect x="151.68" y="247.61" width="0.8" height="0.8" fill="#666"/>
<rect x="157.07" y="256.85" width="0.8" height="0.8" fill="#444"/>
<rect x="145.53" y="259.69" width="0.8" height="0.8" fill="#444"/>
<rect x="124.26" y="249.92" width="0.8" height="0.8" fill="#aaa"/>
<rect x="127.96" y="255.9" width="0.8" height="0.8" fill="#aaa"/>
<rect x="131.79" y="258.51" width="0.8" height="0.8" fill="#aaa"/>
<rect x="134.4" y="256.36" width="0.8" height="0.8" fill="#888"/>
<rect x="125.03" y="259.11" width="0.8" height="0.8" fill="#222"/>
<rect x="131.29" y="256.17" width="0.8" height="0.8" fill="#aaa"/>
<rect x="128" y="250.26" width="0.8" height="0.8" fill="#666"/>
<rect x="153.84" y="254.36" width="0.8" height="0.8" fill="#222"/>
<rect x="116.95" y="250.5" width="0.8" height="0.8" fill="#444"/>
<rect x="122.87" y="258.71" width="0.8" height="0.8" fill="#444"/>
<rect x="112.29" y="259.07" width="0.8" height="0.8" fill="#666"/>
<rect x="150.08" y="252.04" width="0.8" height="0.8" fill="#444"/>
<rect x="131.78" y="260.78" width="0.8" height="0.8" fill="#888"/>
<rect x="119.33" y="260.45" width="0.8" height="0.8" fill="#aaa"/>
<rect x="119.88" y="253.06" width="0.8" height="0.8" fill="#222"/>
<rect x="148.55" y="253.47" width="0.8" height="0.8" fill="#888"/>
<rect x="118.44" y="250.65" width="0.8" height="0.8" fill="#888"/>
<rect x="138.62" y="257.74" width="0.8" height="0.8" fill="#666"/>
<rect x="137.83" y="253.87" width="0.8" height="0.8" fill="#888"/>
<rect x="152.39" y="252.86" width="0.8" height="0.8" fill="#666"/>
<rect x="124.1" y="246.64" width="0.8" height="0.8" fill="#666"/>
<rect x="141.37" y="258.69" width="0.8" height="0.8" fill="#444"/>
<rect x="121.68" y="259.61" width="0.8" height="0.8" fill="#222"/>
<rect x="153.61" y="257.67" width="0.8" height="0.8" fill="#444"/>
<rect x="117.29" y="246.37" width="0.8" height="0.8" fill="#aaa"/>
<rect x="129.63" y="256.12" width="0.8" height="0.8" fill="#888"/>
<rect x="142.19" y="255.54" width="0.8" height="0.8" fill="#aaa"/>
<rect x="117.19" y="257.88" width="0.8" height="0.8" fill="#aaa"/>
<rect x="135.4" y="258.05" width="0.8" height="0.8" fill="#aaa"/>
<rect x="122.8" y="250.21" width="0.8" height="0.8" fill="#666"/>
<rect x="140.68" y="256.12" width="0.8" height="0.8" fill="#222"/>
<rect x="136.02" y="252.37" width="0.8" height="0.8" fill="#888"/>
<rect x="150.74" y="254.61" width="0.8" height="0.8" fill="#444"/>
<rect x="129.08" y="250.76" width="0.8" height="0.8" fill="#222"/>
<rect x="122.1" y="255.07" width="0.8" height="0.8" fill="#666"/>
<rect x="123.36" y="257.89" width="0.8" height="0.8" fill="#666"/>
<rect x="119.25" y="255.69" width="0.8" height="0.8" fill="#888"/>
<rect x="129.35" y="256.76" width="0.8" height="0.8" fill="#aaa"/>
<rect x="121.89" y="248.93" width="0.8" height="0.8" fill="#888"/>
<rect x="139.17" y="253.41" width="0.8" height="0.8" fill="#888"/>
<rect x="125.65" y="253.73" width="0.8" height="0.8" fill="#444"/>
<rect x="123.6" y="254.71" width="0.8" height="0.8" fill="#888"/>
<rect x="121.4" y="258.36" width="0.8" height="0.8" fill="#aaa"/>
<rect x="130.61" y="254.16" width="0.8" height="0.8" fill="#666"/>
<rect x="119.74" y="253.12" width="0.8" height="0.8" fill="#666"/>
<rect x="133.5" y="256.42" width="0.8" height="0.8" fill="#888"/>
<rect x="120.45" y="250.61" width="0.8" height="0.8" fill="#aaa"/>
<rect x="138.94" y="250.1" width="0.8" height="0.8" fill="#666"/>
<rect x="136.51" y="258.09" width="0.8" height="0.8" fill="#666"/>
<rect x="154.59" y="248.52" width="0.8" height="0.8" fill="#aaa"/>
<rect x="145.67" y="249.11" width="0.8" height="0.8" fill="#444"/>
<rect x="133.84" y="255.22" width="0.8" height="0.8" fill="#222"/>
<rect x="136.07" y="249.28" width="0.8" height="0.8" fill="#888"/>
<rect x="120.18" y="254.96" width="0.8" height="0.8" fill="#aaa"/>
<rect x="128.2" y="249.38" width="0.8" height="0.8" fill="#444"/>
<rect x="113.67" y="250.45" width="0.8" height="0.8" fill="#aaa"/>
<rect x="116.45" y="251.07" width="0.8" height="0.8" fill="#666"/>
<rect x="114.03" y="253.22" width="0.8" height="0.8" fill="#666"/>
<rect x="121.8" y="254.98" width="0.8" height="0.8" fill="#666"/>
<rect x="131.43" y="256.47" width="0.8" height="0.8" fill="#444"/>
<rect x="123.42" y="260.39" width="0.8" height="0.8" fill="#444"/>
<rect x="157.51" y="252.48" width="0.8" height="0.8" fill="#666"/>
<rect x="130.25" y="254.51" width="0.8" height="0.8" fill="#888"/>
<rect x="133.68" y="251.5" width="0.8" height="0.8" fill="#444"/>
<rect x="118.72" y="253.89" width="0.8" height="0.8" fill="#666"/>
<rect x="153.46" y="259.47" width="0.8" height="0.8" fill="#888"/>
<rect x="134.75" y="247.68" width="0.8" height="0.8" fill="#666"/>
<rect x="124.87" y="257.83" width="0.8" height="0.8" fill="#888"/>
<rect x="122.76" y="261.8" width="0.8" height="0.8" fill="#444"/>
<rect x="134.78" y="254.57" width="0.8" height="0.8" fill="#666"/>
<rect x="123.06" y="244.46" width="0.8" height="0.8" fill="#666"/>
<rect x="137.86" y="250.26" width="0.8" height="0.8" fill="#222"/>
<rect x="133.82" y="257.61" width="0.8" height="0.8" fill="#aaa"/>
<rect x="145.46" y="258.75" width="0.8" height="0.8" fill="#222"/>
<rect x="140.45" y="254.82" width="0.8" height="0.8" fill="#222"/>
<rect x="140.65" y="254.88" width="0.8" height="0.8" fill="#888"/>
<rect x="137.05" y="252.05" width="0.8" height="0.8" fill="#222"/>
<rect x="114.21" y="255.42" width="0.8" height="0.8" fill="#888"/>
<rect x="125.15" y="249.25" width="0.8" height="0.8" fill="#222"/>
<rect x="111.22" y="261.8" width="0.8" height="0.8" fill="#aaa"/>
<rect x="131.95" y="253.11" width="0.8" height="0.8" fill="#888"/>
<rect x="116.81" y="257.16" width="0.8" height="0.8" fill="#444"/>
<rect x="119.58" y="249.77" width="0.8" height="0.8" fill="#aaa"/>
<rect x="122.07" y="252.17" width="0.8" height="0.8" fill="#aaa"/>
<rect x="126.55" y="253.81" width="0.8" height="0.8" fill="#aaa"/>
<rect x="128.94" y="261.58" width="0.8" height="0.8" fill="#444"/>
<rect x="135.57" y="253.96" width="0.8" height="0.8" fill="#888"/>
<rect x="136.38" y="255.91" width="0.8" height="0.8" fill="#aaa"/>
<rect x="125.18" y="252.67" width="0.8" height="0.8" fill="#444"/>
<rect x="128.22" y="259.26" width="0.8" height="0.8" fill="#222"/>
<rect x="132.97" y="254.07" width="0.8" height="0.8" fill="#222"/>
<rect x="111.45" y="247.31" width="0.8" height="0.8" fill="#222"/>
<rect x="113.65" y="253.82" width="0.8" height="0.8" fill="#666"/>
<rect x="142.84" y="254.59" width="0.8" height="0.8" fill="#888"/>
<rect x="134.14" y="255.65" width="0.8" height="0.8" fill="#aaa"/>
<rect x="115.09" y="251.08" width="0.8" height="0.8" fill="#222"/>
<rect x="116.28" y="254.69" width="0.8" height="0.8" fill="#888"/>
<rect x="136.01" y="256.96" width="0.8" height="0.8" fill="#aaa"/>
<rect x="137.35" y="251.91" width="0.8" height="0.8" fill="#aaa"/>
<rect x="129.5" y="261.8" width="0.8" height="0.8" fill="#222"/>
<rect x="130.85" y="250.62" width="0.8" height="0.8" fill="#888"/>
<rect x="127.14" y="252.95" width="0.8" height="0.8" fill="#666"/>
<rect x="125.36" y="254.26" width="0.8" height="0.8" fill="#666"/>
<rect x="118.1" y="259.25" width="0.8" height="0.8" fill="#888"/>
<rect x="156.16" y="255.61" width="0.8" height="0.8" fill="#222"/>
<rect x="142.27" y="258.14" width="0.8" height="0.8" fill="#222"/>
<rect x="115.89" y="256.65" width="0.8" height="0.8" fill="#aaa"/>
<rect x="132.29" y="256.02" width="0.8" height="0.8" fill="#888"/>
<rect x="137.62" y="253.41" width="0.8" height="0.8" fill="#888"/>
<rect x="128.1" y="255" width="0.8" height="0.8" fill="#666"/>
<rect x="135.07" y="254.6" width="0.8" height="0.8" fill="#888"/>
<rect x="131.97" y="253.45" width="0.8" height="0.8" fill="#888"/>
<rect x="133.51" y="249.1" width="0.8" height="0.8" fill="#888"/>
<rect x="129.58" y="252.42" width="0.8" height="0.8" fill="#444"/>
<rect x="135.4" y="256.56" width="0.8" height="0.8" fill="#444"/>
<rect x="129.64" y="248.19" width="0.8" height="0.8" fill="#222"/>
<rect x="116.67" y="257.81" width="0.8" height="0.8" fill="#444"/>
<rect x="153.77" y="253.36" width="0.8" height="0.8" fill="#444"/>
<rect x="118.36" y="251.05" width="0.8" height="0.8" fill="#888"/>
<rect x="126.02" y="250.98" width="0.8" height="0.8" fill="#aaa"/>
<rect x="155.8" y="245.88" width="0.8" height="0.8" fill="#666"/>
<rect x="121.61" y="261.8" width="0.8" height="0.8" fill="#444"/>
<rect x="152.15" y="254.37" width="0.8" height="0.8" fill="#aaa"/>
<rect x="125.81" y="252.66" width="0.8" height="0.8" fill="#aaa"/>
<rect x="128.62" y="255.76" width="0.8" height="0.8" fill="#444"/>
<rect x="146.52" y="251.65" width="0.8" height="0.8" fill="#222"/>
<rect x="148.32" y="253.52" width="0.8" height="0.8" fill="#444"/>
<rect x="153.72" y="258.23" width="0.8" height="0.8" fill="#aaa"/>
<rect x="147.85" y="254.46" width="0.8" height="0.8" fill="#888"/>
<rect x="123.46" y="259.69" width="0.8" height="0.8" fill="#aaa"/>
<rect x="120.38" y="252.17" width="0.8" height="0.8" fill="#222"/>
<rect x="130.85" y="260.26" width="0.8" height="0.8" fill="#666"/>
<rect x="148.5" y="255.03" width="0.8" height="0.8" fill="#aaa"/>
<rect x="134.87" y="261.45" width="0.8" height="0.8" fill="#666"/>
<rect x="112.21" y="255.55" width="0.8" height="0.8" fill="#222"/>
<rect x="130.15" y="248.85" width="0.8" height="0.8" fill="#666"/>
<rect x="111.85" y="250.52" width="0.8" height="0.8" fill="#444"/>
<rect x="115.58" y="240.07" width="0.8" height="0.8" fill="#888"/>
<rect x="124.05" y="256" width="0.8" height="0.8" fill="#888"/>
<rect x="128" y="258.92" width="0.8" height="0.8" fill="#222"/>
<rect x="155.08" y="249.72" width="0.8" height="0.8" fill="#222"/>
<rect x="133.25" y="252.45" width="0.8" height="0.8" fill="#444"/>
<rect x="121.95" y="253.11" width="0.8" height="0.8" fill="#666"/>
<rect x="125.75" y="252.31" width="0.8" height="0.8" fill="#222"/>
<rect x="150.58" y="261.8" width="0.8" height="0.8" fill="#222"/>
<rect x="128.52" y="246.31" width="0.8" height="0.8" fill="#aaa"/>
<rect x="132.26" y="258.92" width="0.8" height="0.8" fill="#888"/>
<rect x="152.3" y="239.55" width="0.8" height="0.8" fill="#222"/>
<rect x="116.05" y="253.08" width="0.8" height="0.8" fill="#222"/>
<rect x="124.17" y="252.07" width="0.8" height="0.8" fill="#222"/>
<rect x="123.01" y="260.8" width="0.8" height="0.8" fill="#444"/>
<rect x="126.33" y="260.66" width="0.8" height="0.8" fill="#aaa"/>
<rect x="125.27" y="261.8" width="0.8" height="0.8" fill="#aaa"/>
<rect x="131.65" y="252.17" width="0.8" height="0.8" fill="#888"/>
<rect x="116.97" y="249.7" width="0.8" height="0.8" fill="#888"/>
<rect x="117.36" y="256.22" width="0.8" height="0.8" fill="#666"/>
<rect x="151.56" y="254.75" width="0.8" height="0.8" fill="#666"/>
<rect x="131.62" y="257.01" width="0.8" height="0.8" fill="#aaa"/>
<rect x="153.82" y="253.5" width="0.8" height="0.8" fill="#444"/>
<rect x="136.42" y="258.23" width="0.8" height="0.8" fill="#666"/>
<rect x="139.01" y="258.81" width="0.8" height="0.8" fill="#444"/>
<rect x="154.48" y="253.36" width="0.8" height="0.8" fill="#222"/>
<rect x="139.32" y="260.25" width="0.8" height="0.8" fill="#888"/>
<rect x="135.96" y="252.51" width="0.8" height="0.8" fill="#666"/>
<rect x="140.11" y="249.67" width="0.8" height="0.8" fill="#444"/>
<rect x="150.98" y="253.8" width="0.8" height="0.8" fill="#222"/>
<rect x="124.24" y="248.3" width="0.8" height="0.8" fill="#444"/>
<rect x="151.31" y="256.82" width="0.8" height="0.8" fill="#aaa"/>
<rect x="153.81" y="261.8" width="0.8" height="0.8" fill="#444"/>
<rect x="132.42" y="253.97" width="0.8" height="0.8" fill="#666"/>
<rect x="125.11" y="257.5" width="0.8" height="0.8" fill="#666"/>
<rect x="132.62" y="256.71" width="0.8" height="0.8" fill="#666"/>
<rect x="123.54" y="251.17" width="0.8" height="0.8" fill="#aaa"/>
<rect x="116.45" y="253.07" width="0.8" height="0.8" fill="#222"/>
<rect x="128.09" y="254.22" width="0.8" height="0.8" fill="#222"/>
<rect x="133.31" y="254.9" width="0.8" height="0.8" fill="#444"/>
<rect x="151.17" y="254.98" width="0.8" height="0.8" fill="#aaa"/>
<rect x="113.83" y="261.1" width="0.8" height="0.8" fill="#444"/>
<rect x="143.01" y="249.64" width="0.8" height="0.8" fill="#666"/>
<rect x="151.68" y="252.19" width="0.8" height="0.8" fill="#aaa"/>
<rect x="128.71" y="252.44" width="0.8" height="0.8" fill="#888"/>
<rect x="154.46" y="250.75" width="0.8" height="0.8" fill="#aaa"/>
<rect x="114.71" y="251" width="0.8" height="0.8" fill="#222"/>
<rect x="119.43" y="256.45" width="0.8" height="0.8" fill="#222"/>
<rect x="129.86" y="251.68" width="0.8" height="0.8" fill="#222"/>
<rect x="118.2" y="255.98" width="0.8" height="0.8" fill="#666"/>
<rect x="119.59" y="251.99" width="0.8" height="0.8" fill="#222"/>
<rect x="154.83" y="258.04" width="0.8" height="0.8" fill="#666"/>
<rect x="137.05" y="249.7" width="0.8" height="0.8" fill="#666"/>
<rect x="135.18" y="258.83" width="0.8" height="0.8" fill="#222"/>
<rect x="118.13" y="260.04" width="0.8" height="0.8" fill="#aaa"/>
<rect x="138.65" y="260.98" width="0.8" height="0.8" fill="#444"/>
<rect x="146.43" y="254.35" width="0.8" height="0.8" fill="#aaa"/>
<rect x="128.85" y="258.61" width="0.8" height="0.8" fill="#444"/>
<rect x="152.18" y="249.68" width="0.8" height="0.8" fill="#666"/>
<rect x="125.23" y="260.18" width="0.8" height="0.8" fill="#888"/>
<rect x="141.43" y="256.69" width="0.8" height="0.8" fill="#222"/>
<rect x="124.41" y="257.67" width="0.8" height="0.8" fill="#aaa"/>
<rect x="146.79" y="256.84" width="0.8" height="0.8" fill="#888"/>
<rect x="130.71" y="260.89" width="0.8" height="0.8" fill="#aaa"/>
<rect x="121.94" y="254.23" width="0.8" height="0.8" fill="#222"/>
<rect x="126.6" y="257.65" width="0.8" height="0.8" fill="#222"/>
<rect x="141.98" y="255.14" width="0.8" height="0.8" fill="#aaa"/>
<rect x="136.76" y="253.65" width="0.8" height="0.8" fill="#666"/>
<rect x="125.35" y="254.03" width="0.8" height="0.8" fill="#888"/>
<rect x="147.28" y="261.8" width="0.8" height="0.8" fill="#666"/>
<rect x="134.49" y="255.13" width="0.8" height="0.8" fill="#222"/>
<rect x="120.07" y="247.43" width="0.8" height="0.8" fill="#aaa"/>
<rect x="142.7" y="250.33" width="0.8" height="0.8" fill="#222"/>
<rect x="140.43" y="252.89" width="0.8" height="0.8" fill="#666"/>
<rect x="127.71" y="253.13" width="0.8" height="0.8" fill="#444"/>
<rect x="114.26" y="255.48" width="0.8" height="0.8" fill="#222"/>
<rect x="117.36" y="251.22" width="0.8" height="0.8" fill="#444"/>
<rect x="138.3" y="253.66" width="0.8" height="0.8" fill="#666"/>
<rect x="112.97" y="252.38" width="0.8" height="0.8" fill="#aaa"/>
<rect x="121.56" y="253.44" width="0.8" height="0.8" fill="#444"/>
<rect x="127.68" y="258.11" width="0.8" height="0.8" fill="#aaa"/>
<rect x="132.44" y="256.67" width="0.8" height="0.8" fill="#666"/>
<rect x="120.7" y="251.94" width="0.8" height="0.8" fill="#222"/>
<rect x="130.74" y="256.02" width="0.8" height="0.8" fill="#444"/>
<rect x="129.85" y="258.85" width="0.8" height="0.8" fill="#444"/>
<rect x="124.24" y="256.63" width="0.8" height="0.8" fill="#888"/>
<rect x="134.79" y="248.88" width="0.8" height="0.8" fill="#666"/>
<rect x="152.52" y="249.09" width="0.8" height="0.8" fill="#444"/>
<rect x="113.93" y="256.24" width="0.8" height="0.8" fill="#444"/>
<rect x="150.51" y="246.06" width="0.8" height="0.8" fill="#666"/>
<rect x="143.9" y="253.67" width="0.8" height="0.8" fill="#222"/>
<rect x="131.61" y="254.92" width="0.8" height="0.8" fill="#444"/>
<rect x="116.63" y="248.38" width="0.8" height="0.8" fill="#444"/>
<rect x="121.6" y="251.31" width="0.8" height="0.8" fill="#aaa"/>
<rect x="132.9" y="260.29" width="0.8" height="0.8" fill="#888"/>
<rect x="112.16" y="249.7" width="0.8" height="0.8" fill="#444"/>
<rect x="136.63" y="255.35" width="0.8" height="0.8" fill="#888"/>
<rect x="112.31" y="255.94" width="0.8" height="0.8" fill="#444"/>
<rect x="126.21" y="257.66" width="0.8" height="0.8" fill="#888"/>
<rect x="124.71" y="252.43" width="0.8" height="0.8" fill="#222"/>
<rect x="148.77" y="253.73" width="0.8" height="0.8" fill="#666"/>
<rect x="118.02" y="254.12" width="0.8" height="0.8" fill="#222"/>
<rect x="151.67" y="251.07" width="0.8" height="0.8" fill="#222"/>
<rect x="151.29" y="251.24" width="0.8" height="0.8" fill="#888"/>
<rect x="113.27" y="256.68" width="0.8" height="0.8" fill="#222"/>
<rect x="126.06" y="251.25" width="0.8" height="0.8" fill="#aaa"/>
<rect x="146.23" y="253.16" width="0.8" height="0.8" fill="#aaa"/>
<rect x="120.98" y="255.61" width="0.8" height="0.8" fill="#222"/>
<rect x="129.31" y="246.9" width="0.8" height="0.8" fill="#aaa"/>
<rect x="136.78" y="247.86" width="0.8" height="0.8" fill="#444"/>
<rect x="120.13" y="250.4" width="0.8" height="0.8" fill="#666"/>
<rect x="148.5" y="252.22" width="0.8" height="0.8" fill="#444"/>
<rect x="118.14" y="251.64" width="0.8" height="0.8" fill="#444"/>
<rect x="119.06" y="249.9" width="0.8" height="0.8" fill="#666"/>
<rect x="145.8" y="256.92" width="0.8" height="0.8" fill="#aaa"/>
<rect x="137.49" y="248.01" width="0.8" height="0.8" fill="#aaa"/>
<rect x="128.9" y="261.39" width="0.8" height="0.8" fill="#aaa"/>
<rect x="146.06" y="258.2" width="0.8" height="0.8" fill="#222"/>
<rect x="154.25" y="248.68" width="0.8" height="0.8" fill="#666"/>
<rect x="133.94" y="257.57" width="0.8" height="0.8" fill="#aaa"/>
<rect x="113.87" y="250.93" width="0.8" height="0.8" fill="#888"/>
<rect x="125.01" y="257.88" width="0.8" height="0.8" fill="#aaa"/>
<rect x="157.42" y="253.91" width="0.8" height="0.8" fill="#444"/>
<rect x="122.21" y="256.7" width="0.8" height="0.8" fill="#888"/>
<rect x="139.87" y="261.14" width="0.8" height="0.8" fill="#444"/>
<rect x="146.61" y="251.35" width="0.8" height="0.8" fill="#888"/>
<rect x="133.88" y="252.03" width="0.8" height="0.8" fill="#222"/>
<rect x="142.92" y="248.99" width="0.8" height="0.8" fill="#666"/>
<rect x="140.49" y="250.64" width="0.8" height="0.8" fill="#aaa"/>
<rect x="124.1" y="249.81" width="0.8" height="0.8" fill="#222"/>
<rect x="120.57" y="255.63" width="0.8" height="0.8" fill="#666"/>
<rect x="117.75" y="254.35" width="0.8" height="0.8" fill="#666"/>
<rect x="128.22" y="261.8" width="0.8" height="0.8" fill="#666"/>
<rect x="132.28" y="254.89" width="0.8" height="0.8" fill="#aaa"/>
<rect x="117.36" y="258.57" width="0.8" height="0.8" fill="#222"/>
<rect x="114.12" y="260.29" width="0.8" height="0.8" fill="#444"/>
<rect x="119.78" y="249.48" width="0.8" height="0.8" fill="#888"/>
<rect x="113.96" y="256.26" width="0.8" height="0.8" fill="#444"/>
<rect x="128.95" y="255.72" width="0.8" height="0.8" fill="#666"/>
<rect x="128.54" y="252.23" width="0.8" height="0.8" fill="#222"/>
<rect x="113.23" y="256.54" width="0.8" height="0.8" fill="#222"/>
<rect x="126.15" y="251.17" width="0.8" height="0.8" fill="#aaa"/>
<rect x="132.84" y="255.76" width="0.8" height="0.8" fill="#222"/>
<rect x="149.73" y="255.41" width="0.8" height="0.8" fill="#aaa"/>
<rect x="122.31" y="252.88" width="0.8" height="0.8" fill="#aaa"/>
<rect x="135.75" y="252.48" width="0.8" height="0.8" fill="#444"/>
<rect x="120.2" y="250.26" width="0.8" height="0.8" fill="#444"/>
<rect x="114.48" y="261.8" width="0.8" height="0.8" fill="#888"/>
<rect x="118.63" y="253.04" width="0.8" height="0.8" fill="#666"/>
<rect x="126.63" y="258.28" width="0.8" height="0.8" fill="#aaa"/>
<rect x="131.77" y="259.63" width="0.8" height="0.8" fill="#444"/>
<rect x="143.92" y="247.97" width="0.8" height="0.8" fill="#888"/>
<rect x="121.59" y="252.94" width="0.8" height="0.8" fill="#666"/>
<rect x="149.25" y="248.24" width="0.8" height="0.8" fill="#222"/>
<rect x="135.06" y="253.23" width="0.8" height="0.8" fill="#666"/>
<rect x="113.8" y="256.52" width="0.8" height="0.8" fill="#222"/>
<rect x="154.05" y="256.6" width="0.8" height="0.8" fill="#888"/>
<rect x="142.93" y="252.91" width="0.8" height="0.8" fill="#666"/>
<rect x="135.62" y="251.65" width="0.8" height="0.8" fill="#666"/>
<rect x="152.35" y="253.82" width="0.8" height="0.8" fill="#222"/>
<rect x="137.83" y="258.37" width="0.8" height="0.8" fill="#222"/>
<rect x="150.89" y="258.33" width="0.8" height="0.8" fill="#888"/>
<rect x="131.67" y="253.8" width="0.8" height="0.8" fill="#222"/>
<rect x="122.63" y="257.87" width="0.8" height="0.8" fill="#aaa"/>
<rect x="155.73" y="257.15" width="0.8" height="0.8" fill="#444"/>
<rect x="123.83" y="258.72" width="0.8" height="0.8" fill="#222"/>
<rect x="133.76" y="251.28" width="0.8" height="0.8" fill="#666"/>
<rect x="118.33" y="253.34" width="0.8" height="0.8" fill="#222"/>
<rect x="114.38" y="256.37" width="0.8" height="0.8" fill="#888"/>
<rect x="111.3" y="261.8" width="0.8" height="0.8" fill="#aaa"/>
<rect x="119.9" y="251.26" width="0.8" height="0.8" fill="#666"/>
<rect x="112.13" y="254.4" width="0.8" height="0.8" fill="#aaa"/>
<rect x="146.35" y="250.03" width="0.8" height="0.8" fill="#aaa"/>
<rect x="141.09" y="256.09" width="0.8" height="0.8" fill="#888"/>
<rect x="132.78" y="261.32" width="0.8" height="0.8" fill="#666"/>
<rect x="149.88" y="252.68" width="0.8" height="0.8" fill="#aaa"/>
<rect x="131.7" y="259" width="0.8" height="0.8" fill="#666"/>
<rect x="117.68" y="257.67" width="0.8" height="0.8" fill="#222"/>
<rect x="124.75" y="252.83" width="0.8" height="0.8" fill="#666"/>
<rect x="124.91" y="255.07" width="0.8" height="0.8" fill="#666"/>
<rect x="153.88" y="253.1" width="0.8" height="0.8" fill="#444"/>
<rect x="133.43" y="252.51" width="0.8" height="0.8" fill="#222"/>
<rect x="124.36" y="248.98" width="0.8" height="0.8" fill="#888"/>
<rect x="143.94" y="257.28" width="0.8" height="0.8" fill="#666"/>
<rect x="132.39" y="259.28" width="0.8" height="0.8" fill="#aaa"/>
<rect x="115.6" y="256.13" width="0.8" height="0.8" fill="#444"/>
<rect x="149.88" y="255.72" width="0.8" height="0.8" fill="#aaa"/>
<rect x="147.11" y="257.72" width="0.8" height="0.8" fill="#666"/>
<rect x="111.41" y="251.01" width="0.8" height="0.8" fill="#666"/>
<rect x="150.16" y="255.61" width="0.8" height="0.8" fill="#222"/>
<rect x="117.11" y="253.35" width="0.8" height="0.8" fill="#444"/>
<rect x="153.86" y="256.19" width="0.8" height="0.8" fill="#aaa"/>
<rect x="157.16" y="251.76" width="0.8" height="0.8" fill="#888"/>
<rect x="125.91" y="249.04" width="0.8" height="0.8" fill="#aaa"/>
<rect x="125.38" y="255.33" width="0.8" height="0.8" fill="#aaa"/>
<rect x="136.22" y="250.66" width="0.8" height="0.8" fill="#444"/>
<rect x="128.6" y="252.4" width="0.8" height="0.8" fill="#666"/>
<rect x="145.57" y="261.8" width="0.8" height="0.8" fill="#666"/>
<rect x="132.84" y="261.5" width="0.8" height="0.8" fill="#888"/>
<rect x="142.67" y="259.44" width="0.8" height="0.8" fill="#aaa"/>
<rect x="135.74" y="258.03" width="0.8" height="0.8" fill="#666"/>
<rect x="118.42" y="252.7" width="0.8" height="0.8" fill="#222"/>
<rect x="114.97" y="250.88" width="0.8" height="0.8" fill="#aaa"/>
<rect x="154.31" y="258.18" width="0.8" height="0.8" fill="#222"/>
<rect x="134.2" y="252.34" width="0.8" height="0.8" fill="#666"/>
<rect x="154.28" y="259.97" width="0.8" height="0.8" fill="#444"/>
<rect x="139.39" y="258.1" width="0.8" height="0.8" fill="#444"/>
<rect x="141.1" y="248.18" width="0.8" height="0.8" fill="#444"/>
<rect x="151.23" y="255.21" width="0.8" height="0.8" fill="#222"/>
<rect x="154.89" y="251.69" width="0.8" height="0.8" fill="#888"/>
<rect x="124.96" y="249.76" width="0.8" height="0.8" fill="#222"/>
<rect x="130.79" y="254.25" width="0.8" height="0.8" fill="#888"/>
<rect x="113.39" y="253.66" width="0.8" height="0.8" fill="#888"/>
<rect x="153.28" y="261.8" width="0.8" height="0.8" fill="#444"/>
<rect x="150.13" y="251.36" width="0.8" height="0.8" fill="#222"/>
<rect x="149.68" y="248.7" width="0.8" height="0.8" fill="#888"/>
<rect x="154.18" y="258.06" width="0.8" height="0.8" fill="#222"/>
<rect x="139.59" y="255.26" width="0.8" height="0.8" fill="#666"/>
<rect x="113.5" y="251.32" width="0.8" height="0.8" fill="#aaa"/>
<rect x="151.98" y="258.43" width="0.8" height="0.8" fill="#888"/>
<rect x="136.48" y="250.35" width="0.8" height="0.8" fill="#222"/>
<rect x="125.55" y="249.97" width="0.8" height="0.8" fill="#666"/>
<rect x="130.01" y="253.41" width="0.8" height="0.8" fill="#444"/>
<rect x="150.68" y="257.71" width="0.8" height="0.8" fill="#222"/>
<rect x="118.25" y="250.81" width="0.8" height="0.8" fill="#aaa"/>
<rect x="114.95" y="252.82" width="0.8" height="0.8" fill="#666"/>
<rect x="148.8" y="261.31" width="0.8" height="0.8" fill="#aaa"/>
<rect x="118.19" y="247.2" width="0.8" height="0.8" fill="#aaa"/>
<rect x="151.93" y="249.27" width="0.8" height="0.8" fill="#222"/>
<rect x="129.94" y="254.24" width="0.8" height="0.8" fill="#aaa"/>
<rect x="139.77" y="252.21" width="0.8" height="0.8" fill="#444"/>
<rect x="145.57" y="251.34" width="0.8" height="0.8" fill="#aaa"/>
<rect x="129.85" y="256.03" width="0.8" height="0.8" fill="#444"/>
<rect x="110.91" y="250.72" width="0.8" height="0.8" fill="#666"/>
<rect x="112.61" y="253.3" width="0.8" height="0.8" fill="#888"/>
<rect x="119.88" y="257.11" width="0.8" height="0.8" fill="#aaa"/>
<rect x="127.99" y="260.61" width="0.8" height="0.8" fill="#aaa"/>
<rect x="137.1" y="253.44" width="0.8" height="0.8" fill="#aaa"/>
<rect x="129.57" y="255.2" width="0.8" height="0.8" fill="#888"/>
<rect x="136.68" y="254.06" width="0.8" height="0.8" fill="#222"/>
<rect x="116.25" y="251.27" width="0.8" height="0.8" fill="#aaa"/>
<rect x="135.33" y="254.7" width="0.8" height="0.8" fill="#888"/>
<rect x="148.98" y="247.44" width="0.8" height="0.8" fill="#aaa"/>
<rect x="150.36" y="252.53" width="0.8" height="0.8" fill="#888"/>
<rect x="156" y="257.21" width="0.8" height="0.8" fill="#888"/>
<rect x="128.2" y="254.66" width="0.8" height="0.8" fill="#888"/>
<rect x="125.33" y="252.19" width="0.8" height="0.8" fill="#444"/>
<rect x="123.38" y="245.43" width="0.8" height="0.8" fill="#222"/>
<rect x="150.39" y="248.73" width="0.8" height="0.8" fill="#444"/>
<rect x="144.37" y="259.34" width="0.8" height="0.8" fill="#222"/>
<rect x="112.79" y="256.45" width="0.8" height="0.8" fill="#aaa"/>
<rect x="149.58" y="248.26" width="0.8" height="0.8" fill="#aaa"/>
<rect x="118.74" y="257.97" width="0.8" height="0.8" fill="#888"/>
<rect x="156.5" y="252.94" width="0.8" height="0.8" fill="#222"/>
<rect x="148.3" y="252.82" width="0.8" height="0.8" fill="#444"/>
<rect x="127.44" y="254.42" width="0.8" height="0.8" fill="#888"/>
<rect x="114.32" y="257.83" width="0.8" height="0.8" fill="#222"/>
<rect x="128.44" y="256.97" width="0.8" height="0.8" fill="#666"/>
<rect x="142.38" y="252.34" width="0.8" height="0.8" fill="#666"/>
<rect x="149.27" y="250.4" width="0.8" height="0.8" fill="#666"/>
<rect x="157.92" y="258.89" width="0.8" height="0.8" fill="#222"/>
<rect x="151.33" y="255.97" width="0.8" height="0.8" fill="#444"/>
<rect x="111.95" y="255.02" width="0.8" height="0.8" fill="#666"/>
<rect x="139.39" y="249.91" width="0.8" height="0.8" fill="#555"/>
<rect x="131.33" y="242.66" width="0.8" height="0.8" fill="#aaa"/>
<rect x="125.99" y="244.24" width="0.8" height="0.8" fill="#555"/>
<rect x="117.79" y="249.81" width="0.8" height="0.8" fill="#888"/>
<rect x="131.05" y="244.23" width="0.8" height="0.8" fill="#aaa"/>
<rect x="144.47" y="248.57" width="0.8" height="0.8" fill="#aaa"/>
<rect x="135.8" y="237.49" width="0.8" height="0.8" fill="#aaa"/>
<rect x="154.39" y="238.43" width="0.8" height="0.8" fill="#555"/>
<rect x="137.06" y="241.58" width="0.8" height="0.8" fill="#888"/>
<rect x="131.3" y="242.22" width="0.8" height="0.8" fill="#aaa"/>
<rect x="145.04" y="237.76" width="0.8" height="0.8" fill="#888"/>
<rect x="140.89" y="246.08" width="0.8" height="0.8" fill="#aaa"/>
<rect x="140.29" y="235.26" width="0.8" height="0.8" fill="#aaa"/>
<rect x="112.6" y="237.7" width="0.8" height="0.8" fill="#555"/>
<rect x="117.84" y="250.39" width="0.8" height="0.8" fill="#aaa"/>
<rect x="144.53" y="236.95" width="0.8" height="0.8" fill="#555"/>
<rect x="155.69" y="237.12" width="0.8" height="0.8" fill="#888"/>
<rect x="147.33" y="249.54" width="0.8" height="0.8" fill="#555"/>
<rect x="131.25" y="237.28" width="0.8" height="0.8" fill="#aaa"/>
<rect x="147.3" y="239.94" width="0.8" height="0.8" fill="#888"/>
<rect x="116.32" y="239.68" width="0.8" height="0.8" fill="#aaa"/>
<rect x="129.66" y="243.15" width="0.8" height="0.8" fill="#555"/>
<rect x="148.14" y="239.89" width="0.8" height="0.8" fill="#555"/>
<rect x="116.71" y="235.54" width="0.8" height="0.8" fill="#555"/>
<rect x="147.57" y="244.41" width="0.8" height="0.8" fill="#555"/>
<rect x="131.2" y="249.51" width="0.8" height="0.8" fill="#555"/>
<rect x="138.19" y="241.6" width="0.8" height="0.8" fill="#aaa"/>
<rect x="140.06" y="247.99" width="0.8" height="0.8" fill="#555"/>
<rect x="134.1" y="238.75" width="0.8" height="0.8" fill="#888"/>
<rect x="121.12" y="243.45" width="0.8" height="0.8" fill="#aaa"/>
<rect x="125.27" y="234.89" width="0.8" height="0.8" fill="#555"/>
<rect x="132.14" y="245.79" width="0.8" height="0.8" fill="#888"/>
<rect x="151.83" y="246.74" width="0.8" height="0.8" fill="#555"/>
<rect x="128.41" y="243.47" width="0.8" height="0.8" fill="#aaa"/>
<rect x="148.53" y="240.73" width="0.8" height="0.8" fill="#888"/>
<rect x="131.49" y="242.89" width="0.8" height="0.8" fill="#888"/>
<rect x="129.21" y="239.19" width="0.8" height="0.8" fill="#555"/>
<rect x="156.32" y="237.94" width="0.8" height="0.8" fill="#888"/>
<rect x="111.7" y="249.37" width="0.8" height="0.8" fill="#555"/>
<rect x="157.64" y="237.92" width="0.8" height="0.8" fill="#888"/>
<rect x="140.53" y="239.57" width="0.8" height="0.8" fill="#888"/>
<rect x="135.45" y="238.9" width="0.8" height="0.8" fill="#aaa"/>
<rect x="144.39" y="247.48" width="0.8" height="0.8" fill="#aaa"/>
<rect x="135.59" y="249.39" width="0.8" height="0.8" fill="#888"/>
<rect x="111.7" y="243.1" width="0.8" height="0.8" fill="#888"/>
<rect x="168" y="260" width="1" height="1" fill="#999"/>
<rect x="183" y="245" width="1" height="1" fill="#999"/>
<rect x="181.5" y="262" width="1" height="1" fill="#999"/>
<rect x="78.5" y="173.4" width="108.5" height="91.9" fill="none" stroke="#333" stroke-width="1"/>
<rect x="109.7" y="228.2" width="55" height="35.9" fill="none" stroke="#111" stroke-width="1.3"/>
<line x1="201" y1="261.8" x2="204.2" y2="261.8" stroke="#333" stroke-width="0.9"/>
<line x1="201" y1="258.3" x2="204.2" y2="258.3" stroke="#333" stroke-width="0.9"/>
<line x1="201" y1="254.8" x2="204.2" y2="254.8" stroke="#333" stroke-width="0.9"/>
<line x1="201" y1="251.3" x2="204.2" y2="251.3" stroke="#333" stroke-width="0.9"/>
<line x1="198.7" y1="247.8" x2="204.2" y2="247.8" stroke="#333" stroke-width="0.9"/>
<line x1="201" y1="244.3" x2="204.2" y2="244.3" stroke="#333" stroke-width="0.9"/>
<line x1="201" y1="240.8" x2="204.2" y2="240.8" stroke="#333" stroke-width="0.9"/>
<line x1="201" y1="237.3" x2="204.2" y2="237.3" stroke="#333" stroke-width="0.9"/>
<line x1="201" y1="233.8" x2="204.2" y2="233.8" stroke="#333" stroke-width="0.9"/>
<line x1="198.7" y1="230.3" x2="204.2" y2="230.3" stroke="#333" stroke-width="0.9"/>
<line x1="201" y1="226.8" x2="204.2" y2="226.8" stroke="#333" stroke-width="0.9"/>
<line x1="201" y1="223.3" x2="204.2" y2="223.3" stroke="#333" stroke-width="0.9"/>
<line x1="201" y1="219.8" x2="204.2" y2="219.8" stroke="#333" stroke-width="0.9"/>
<line x1="201" y1="216.3" x2="204.2" y2="216.3" stroke="#333" stroke-width="0.9"/>
<line x1="198.7" y1="212.8" x2="204.2" y2="212.8" stroke="#333" stroke-width="0.9"/>
<line x1="201" y1="209.3" x2="204.2" y2="209.3" stroke="#333" stroke-width="0.9"/>
<line x1="201" y1="205.8" x2="204.2" y2="205.8" stroke="#333" stroke-width="0.9"/>
<line x1="201" y1="202.3" x2="204.2" y2="202.3" stroke="#333" stroke-width="0.9"/>
<line x1="201" y1="198.8" x2="204.2" y2="198.8" stroke="#333" stroke-width="0.9"/>
<line x1="198.7" y1="195.3" x2="204.2" y2="195.3" stroke="#333" stroke-width="0.9"/>
<line x1="201" y1="191.8" x2="204.2" y2="191.8" stroke="#333" stroke-width="0.9"/>
<line x1="201" y1="188.3" x2="204.2" y2="188.3" stroke="#333" stroke-width="0.9"/>
<line x1="201" y1="184.8" x2="204.2" y2="184.8" stroke="#333" stroke-width="0.9"/>
<line x1="201" y1="181.3" x2="204.2" y2="181.3" stroke="#333" stroke-width="0.9"/>
<line x1="198.7" y1="177.8" x2="204.2" y2="177.8" stroke="#333" stroke-width="0.9"/>
<line x1="201" y1="174.3" x2="204.2" y2="174.3" stroke="#333" stroke-width="0.9"/>
<line x1="219.4" y1="265.3" x2="219.4" y2="271.5" stroke="#333" stroke-width="0.9"/>
<line x1="227.62" y1="265.3" x2="227.62" y2="268.7" stroke="#333" stroke-width="0.85"/>
<line x1="232.43" y1="265.3" x2="232.43" y2="268.7" stroke="#333" stroke-width="0.85"/>
<line x1="235.84" y1="265.3" x2="235.84" y2="268.7" stroke="#333" stroke-width="0.85"/>
<line x1="238.48" y1="265.3" x2="238.48" y2="268.7" stroke="#333" stroke-width="0.85"/>
<line x1="240.64" y1="265.3" x2="240.64" y2="268.7" stroke="#333" stroke-width="0.85"/>
<line x1="242.47" y1="265.3" x2="242.47" y2="268.7" stroke="#333" stroke-width="0.85"/>
<line x1="244.05" y1="265.3" x2="244.05" y2="268.7" stroke="#333" stroke-width="0.85"/>
<line x1="245.45" y1="265.3" x2="245.45" y2="268.7" stroke="#333" stroke-width="0.85"/>
<line x1="246.7" y1="265.3" x2="246.7" y2="271.5" stroke="#333" stroke-width="0.9"/>
<line x1="254.92" y1="265.3" x2="254.92" y2="268.7" stroke="#333" stroke-width="0.85"/>
<line x1="259.73" y1="265.3" x2="259.73" y2="268.7" stroke="#333" stroke-width="0.85"/>
<line x1="263.14" y1="265.3" x2="263.14" y2="268.7" stroke="#333" stroke-width="0.85"/>
<line x1="265.78" y1="265.3" x2="265.78" y2="268.7" stroke="#333" stroke-width="0.85"/>
<line x1="267.94" y1="265.3" x2="267.94" y2="268.7" stroke="#333" stroke-width="0.85"/>
<line x1="269.77" y1="265.3" x2="269.77" y2="268.7" stroke="#333" stroke-width="0.85"/>
<line x1="271.35" y1="265.3" x2="271.35" y2="268.7" stroke="#333" stroke-width="0.85"/>
<line x1="272.75" y1="265.3" x2="272.75" y2="268.7" stroke="#333" stroke-width="0.85"/>
<line x1="274" y1="265.3" x2="274" y2="271.5" stroke="#333" stroke-width="0.9"/>
<line x1="282.22" y1="265.3" x2="282.22" y2="268.7" stroke="#333" stroke-width="0.85"/>
<line x1="287.03" y1="265.3" x2="287.03" y2="268.7" stroke="#333" stroke-width="0.85"/>
<line x1="290.44" y1="265.3" x2="290.44" y2="268.7" stroke="#333" stroke-width="0.85"/>
<line x1="293.08" y1="265.3" x2="293.08" y2="268.7" stroke="#333" stroke-width="0.85"/>
<line x1="295.24" y1="265.3" x2="295.24" y2="268.7" stroke="#333" stroke-width="0.85"/>
<line x1="297.07" y1="265.3" x2="297.07" y2="268.7" stroke="#333" stroke-width="0.85"/>
<line x1="298.65" y1="265.3" x2="298.65" y2="268.7" stroke="#333" stroke-width="0.85"/>
<line x1="300.05" y1="265.3" x2="300.05" y2="268.7" stroke="#333" stroke-width="0.85"/>
<line x1="301.3" y1="265.3" x2="301.3" y2="271.5" stroke="#333" stroke-width="0.9"/>
<line x1="309.52" y1="265.3" x2="309.52" y2="268.7" stroke="#333" stroke-width="0.85"/>
<line x1="217.5" y1="265.3" x2="217.5" y2="268.7" stroke="#333" stroke-width="0.85"/>
<line x1="215.6" y1="265.3" x2="215.6" y2="268.7" stroke="#333" stroke-width="0.85"/>
<line x1="213.7" y1="265.3" x2="213.7" y2="268.7" stroke="#333" stroke-width="0.85"/>
<line x1="211.8" y1="265.3" x2="211.8" y2="268.7" stroke="#333" stroke-width="0.85"/>
<line x1="209.9" y1="265.3" x2="209.9" y2="268.7" stroke="#333" stroke-width="0.85"/>
<line x1="208" y1="265.3" x2="208" y2="268.7" stroke="#333" stroke-width="0.85"/>
<line x1="206.1" y1="265.3" x2="206.1" y2="268.7" stroke="#333" stroke-width="0.85"/>
<text x="214.4" y="279.7" font-size="8.2" font-weight="bold">10<tspan font-size="4.3" dy="-2.6">2</tspan></text>
<text x="241.7" y="279.7" font-size="8.2" font-weight="bold">10<tspan font-size="4.3" dy="-2.6">3</tspan></text>
<text x="269" y="279.7" font-size="8.2" font-weight="bold">10<tspan font-size="4.3" dy="-2.6">4</tspan></text>
<text x="296.3" y="279.7" font-size="8.2" font-weight="bold">10<tspan font-size="4.3" dy="-2.6">5</tspan></text>
<path d="M204.2,261.5 L204.2,236.2 Q205,234.6 207.8,234.4 L232.4,234.4 Q233.6,234.4 233.6,235.6 L233.6,241.4 L223.1,261.5 Z" fill="#383838"/>
<rect x="230.53" y="251.78" width="0.8" height="0.8" fill="#333"/>
<rect x="229.21" y="257.67" width="0.8" height="0.8" fill="#444"/>
<rect x="232.94" y="252.49" width="0.8" height="0.8" fill="#333"/>
<rect x="233.7" y="244.98" width="0.8" height="0.8" fill="#888"/>
<rect x="230.05" y="249.64" width="0.8" height="0.8" fill="#333"/>
<rect x="227.06" y="254.72" width="0.8" height="0.8" fill="#444"/>
<rect x="228.44" y="259.73" width="0.8" height="0.8" fill="#444"/>
<rect x="225.25" y="255.55" width="0.8" height="0.8" fill="#888"/>
<rect x="232.4" y="238.33" width="0.8" height="0.8" fill="#333"/>
<rect x="232.64" y="240.58" width="0.8" height="0.8" fill="#444"/>
<rect x="224.7" y="258.54" width="0.8" height="0.8" fill="#444"/>
<rect x="230.73" y="249.51" width="0.8" height="0.8" fill="#444"/>
<rect x="230.41" y="245.29" width="0.8" height="0.8" fill="#888"/>
<rect x="232.56" y="239.4" width="0.8" height="0.8" fill="#333"/>
<rect x="233.46" y="243.89" width="0.8" height="0.8" fill="#333"/>
<rect x="230.45" y="251.05" width="0.8" height="0.8" fill="#333"/>
<rect x="233.62" y="243.3" width="0.8" height="0.8" fill="#888"/>
<rect x="226.54" y="253.77" width="0.8" height="0.8" fill="#888"/>
<rect x="225.99" y="254" width="0.8" height="0.8" fill="#333"/>
<rect x="224.13" y="260.62" width="0.8" height="0.8" fill="#888"/>
<rect x="233.95" y="235.39" width="0.8" height="0.8" fill="#666"/>
<rect x="233.37" y="245.1" width="0.8" height="0.8" fill="#888"/>
<rect x="232.6" y="236.17" width="0.8" height="0.8" fill="#444"/>
<rect x="232.68" y="238.13" width="0.8" height="0.8" fill="#888"/>
<rect x="231.55" y="244.23" width="0.8" height="0.8" fill="#666"/>
<rect x="225.19" y="255.92" width="0.8" height="0.8" fill="#666"/>
<rect x="223.76" y="258.2" width="0.8" height="0.8" fill="#333"/>
<rect x="233.12" y="240.55" width="0.8" height="0.8" fill="#666"/>
<rect x="224.41" y="259.78" width="0.8" height="0.8" fill="#333"/>
<rect x="231.87" y="243.37" width="0.8" height="0.8" fill="#444"/>
<rect x="227.81" y="256.55" width="0.8" height="0.8" fill="#666"/>
<rect x="222.43" y="261.91" width="0.8" height="0.8" fill="#333"/>
<rect x="233.32" y="237.09" width="0.8" height="0.8" fill="#888"/>
<rect x="233.75" y="235.76" width="0.8" height="0.8" fill="#666"/>
<rect x="226.22" y="257.29" width="0.8" height="0.8" fill="#888"/>
<rect x="231.11" y="252.2" width="0.8" height="0.8" fill="#666"/>
<rect x="224.42" y="257.62" width="0.8" height="0.8" fill="#444"/>
<rect x="231" y="251.98" width="0.8" height="0.8" fill="#333"/>
<rect x="232.87" y="239.48" width="0.8" height="0.8" fill="#333"/>
<rect x="225.08" y="257.79" width="0.8" height="0.8" fill="#888"/>
<rect x="226.52" y="259.89" width="0.8" height="0.8" fill="#444"/>
<rect x="224.47" y="261.35" width="0.8" height="0.8" fill="#888"/>
<rect x="227.16" y="253.57" width="0.8" height="0.8" fill="#666"/>
<rect x="232.31" y="242.79" width="0.8" height="0.8" fill="#444"/>
<rect x="234.13" y="237.95" width="0.8" height="0.8" fill="#444"/>
<rect x="228.75" y="251.89" width="0.8" height="0.8" fill="#666"/>
<rect x="233.08" y="239.78" width="0.8" height="0.8" fill="#666"/>
<rect x="233.99" y="236.61" width="0.8" height="0.8" fill="#666"/>
<rect x="229.16" y="253.72" width="0.8" height="0.8" fill="#666"/>
<rect x="232.51" y="244.75" width="0.8" height="0.8" fill="#666"/>
<rect x="225.06" y="257.53" width="0.8" height="0.8" fill="#666"/>
<rect x="223.93" y="260.83" width="0.8" height="0.8" fill="#444"/>
<rect x="227.6" y="250.64" width="0.8" height="0.8" fill="#666"/>
<rect x="231.62" y="243.73" width="0.8" height="0.8" fill="#666"/>
<rect x="227.83" y="257.03" width="0.8" height="0.8" fill="#666"/>
<rect x="232.38" y="244.33" width="0.8" height="0.8" fill="#888"/>
<rect x="233.56" y="244.39" width="0.8" height="0.8" fill="#888"/>
<rect x="230.1" y="248.94" width="0.8" height="0.8" fill="#444"/>
<rect x="232.85" y="240.28" width="0.8" height="0.8" fill="#888"/>
<rect x="231.89" y="242.57" width="0.8" height="0.8" fill="#888"/>
<rect x="233.92" y="239.56" width="0.8" height="0.8" fill="#888"/>
<rect x="232.53" y="243.1" width="0.8" height="0.8" fill="#666"/>
<rect x="225.68" y="254.42" width="0.8" height="0.8" fill="#444"/>
<rect x="229.91" y="250.79" width="0.8" height="0.8" fill="#444"/>
<rect x="233.56" y="240.84" width="0.8" height="0.8" fill="#333"/>
<rect x="230.58" y="247.98" width="0.8" height="0.8" fill="#888"/>
<rect x="230.14" y="247.51" width="0.8" height="0.8" fill="#333"/>
<rect x="228.12" y="250.89" width="0.8" height="0.8" fill="#666"/>
<rect x="232.92" y="234.92" width="0.8" height="0.8" fill="#666"/>
<rect x="230.96" y="258.09" width="0.8" height="0.8" fill="#666"/>
<rect x="225.4" y="261.03" width="0.8" height="0.8" fill="#666"/>
<rect x="233.19" y="237.47" width="0.8" height="0.8" fill="#666"/>
<rect x="223.73" y="260.67" width="0.8" height="0.8" fill="#666"/>
<rect x="226.09" y="257.08" width="0.8" height="0.8" fill="#666"/>
<rect x="229.51" y="247.57" width="0.8" height="0.8" fill="#888"/>
<rect x="225.93" y="261.13" width="0.8" height="0.8" fill="#666"/>
<rect x="227.93" y="257.16" width="0.8" height="0.8" fill="#888"/>
<rect x="233.23" y="237.82" width="0.8" height="0.8" fill="#444"/>
<rect x="234.04" y="243.72" width="0.8" height="0.8" fill="#888"/>
<rect x="230.17" y="248.27" width="0.8" height="0.8" fill="#888"/>
<rect x="233.47" y="245.3" width="0.8" height="0.8" fill="#444"/>
<rect x="228.12" y="251.05" width="0.8" height="0.8" fill="#666"/>
<rect x="229.89" y="248.35" width="0.8" height="0.8" fill="#666"/>
<rect x="223.88" y="260.51" width="0.8" height="0.8" fill="#666"/>
<rect x="232.42" y="238.78" width="0.8" height="0.8" fill="#888"/>
<rect x="232.36" y="241.55" width="0.8" height="0.8" fill="#444"/>
<rect x="224.14" y="257.31" width="0.8" height="0.8" fill="#666"/>
<rect x="233" y="241.5" width="0.8" height="0.8" fill="#333"/>
<rect x="232.64" y="241.56" width="0.8" height="0.8" fill="#444"/>
<rect x="226.61" y="254.45" width="0.8" height="0.8" fill="#888"/>
<rect x="228.84" y="251.38" width="0.8" height="0.8" fill="#333"/>
<rect x="232.53" y="235.34" width="0.8" height="0.8" fill="#666"/>
<rect x="229.16" y="249.36" width="0.8" height="0.8" fill="#666"/>
<rect x="225.53" y="254.72" width="0.8" height="0.8" fill="#666"/>
<rect x="232.75" y="244.68" width="0.8" height="0.8" fill="#444"/>
<rect x="232.69" y="235.89" width="0.8" height="0.8" fill="#888"/>
<rect x="226.42" y="253.48" width="0.8" height="0.8" fill="#444"/>
<rect x="233.91" y="235.29" width="0.8" height="0.8" fill="#888"/>
<rect x="230.3" y="251.02" width="0.8" height="0.8" fill="#888"/>
<rect x="230.32" y="258.17" width="0.8" height="0.8" fill="#888"/>
<rect x="233.39" y="245.52" width="0.8" height="0.8" fill="#444"/>
<rect x="225.45" y="259.26" width="0.8" height="0.8" fill="#333"/>
<rect x="231.5" y="243.13" width="0.8" height="0.8" fill="#888"/>
<rect x="230.12" y="250.68" width="0.8" height="0.8" fill="#888"/>
<rect x="223.5" y="259.58" width="0.8" height="0.8" fill="#888"/>
<rect x="232.39" y="253.74" width="0.8" height="0.8" fill="#666"/>
<rect x="229.44" y="249.48" width="0.8" height="0.8" fill="#333"/>
<rect x="232.66" y="236.75" width="0.8" height="0.8" fill="#333"/>
<rect x="228.23" y="256.36" width="0.8" height="0.8" fill="#333"/>
<rect x="231.86" y="243.93" width="0.8" height="0.8" fill="#333"/>
<rect x="226.76" y="261.95" width="0.8" height="0.8" fill="#333"/>
<rect x="232.53" y="238.24" width="0.8" height="0.8" fill="#333"/>
<rect x="226.14" y="254.21" width="0.8" height="0.8" fill="#666"/>
<rect x="227.52" y="254.03" width="0.8" height="0.8" fill="#444"/>
<rect x="228.53" y="251.45" width="0.8" height="0.8" fill="#444"/>
<rect x="232.64" y="236.72" width="0.8" height="0.8" fill="#333"/>
<rect x="230.26" y="252.79" width="0.8" height="0.8" fill="#666"/>
<rect x="233.26" y="236.46" width="0.8" height="0.8" fill="#888"/>
<rect x="223.89" y="258.71" width="0.8" height="0.8" fill="#888"/>
<rect x="233.56" y="237.38" width="0.8" height="0.8" fill="#888"/>
<rect x="230.59" y="245.04" width="0.8" height="0.8" fill="#666"/>
<rect x="233.4" y="239" width="0.8" height="0.8" fill="#666"/>
<rect x="226.02" y="259.57" width="0.8" height="0.8" fill="#444"/>
<rect x="232.95" y="242.03" width="0.8" height="0.8" fill="#666"/>
<rect x="225.18" y="257.46" width="0.8" height="0.8" fill="#444"/>
<rect x="231.15" y="256.8" width="0.8" height="0.8" fill="#888"/>
<rect x="225.98" y="254.87" width="0.8" height="0.8" fill="#333"/>
<rect x="226.77" y="252.65" width="0.8" height="0.8" fill="#333"/>
<rect x="232.53" y="237.37" width="0.8" height="0.8" fill="#888"/>
<rect x="234.49" y="241.37" width="0.8" height="0.8" fill="#888"/>
<rect x="222.62" y="261.01" width="0.8" height="0.8" fill="#333"/>
<rect x="229.23" y="249.59" width="0.8" height="0.8" fill="#444"/>
<rect x="224.66" y="260.5" width="0.8" height="0.8" fill="#444"/>
<rect x="225.46" y="255.21" width="0.8" height="0.8" fill="#888"/>
<rect x="224.7" y="257.14" width="0.8" height="0.8" fill="#888"/>
<rect x="231.18" y="244.5" width="0.8" height="0.8" fill="#666"/>
<rect x="227.43" y="260.12" width="0.8" height="0.8" fill="#888"/>
<rect x="232.48" y="245.15" width="0.8" height="0.8" fill="#666"/>
<rect x="231.08" y="252.46" width="0.8" height="0.8" fill="#888"/>
<rect x="224.02" y="260.95" width="0.8" height="0.8" fill="#333"/>
<rect x="229.53" y="250.96" width="0.8" height="0.8" fill="#444"/>
<rect x="230.37" y="245.62" width="0.8" height="0.8" fill="#333"/>
<rect x="232.62" y="239.95" width="0.8" height="0.8" fill="#888"/>
<rect x="225.67" y="259" width="0.8" height="0.8" fill="#666"/>
<rect x="233.04" y="234.91" width="0.8" height="0.8" fill="#888"/>
<rect x="232.06" y="243.66" width="0.8" height="0.8" fill="#444"/>
<rect x="232.57" y="239.09" width="0.8" height="0.8" fill="#666"/>
<rect x="230.95" y="258.45" width="0.8" height="0.8" fill="#888"/>
<rect x="232.69" y="239.02" width="0.8" height="0.8" fill="#666"/>
<rect x="229.01" y="257.08" width="0.8" height="0.8" fill="#444"/>
<rect x="232.93" y="244.23" width="0.8" height="0.8" fill="#666"/>
<rect x="227.13" y="260.32" width="0.8" height="0.8" fill="#888"/>
<rect x="233.5" y="238.1" width="0.8" height="0.8" fill="#666"/>
<rect x="229.89" y="247.2" width="0.8" height="0.8" fill="#444"/>
<rect x="233.65" y="235.81" width="0.8" height="0.8" fill="#444"/>
<rect x="229.16" y="252.69" width="0.8" height="0.8" fill="#666"/>
<rect x="226.75" y="253.34" width="0.8" height="0.8" fill="#666"/>
<rect x="233.35" y="242.57" width="0.8" height="0.8" fill="#888"/>
<rect x="232.68" y="239.33" width="0.8" height="0.8" fill="#444"/>
<rect x="226.61" y="260.39" width="0.8" height="0.8" fill="#888"/>
<rect x="226.48" y="254.59" width="0.8" height="0.8" fill="#888"/>
<rect x="233.91" y="236.55" width="0.8" height="0.8" fill="#888"/>
<rect x="232.43" y="239.5" width="0.8" height="0.8" fill="#666"/>
<rect x="227.5" y="260.36" width="0.8" height="0.8" fill="#444"/>
<rect x="225.64" y="259.26" width="0.8" height="0.8" fill="#888"/>
<rect x="232.68" y="236.36" width="0.8" height="0.8" fill="#333"/>
<rect x="231.94" y="248.38" width="0.8" height="0.8" fill="#333"/>
<rect x="232.74" y="241.82" width="0.8" height="0.8" fill="#666"/>
<rect x="232.35" y="252.26" width="0.8" height="0.8" fill="#444"/>
<rect x="233.11" y="239.76" width="0.8" height="0.8" fill="#888"/>
<rect x="232.67" y="240" width="0.8" height="0.8" fill="#666"/>
<rect x="224.9" y="256.33" width="0.8" height="0.8" fill="#444"/>
<rect x="232.23" y="251.11" width="0.8" height="0.8" fill="#444"/>
<rect x="228.48" y="251.84" width="0.8" height="0.8" fill="#666"/>
<rect x="230.64" y="248.09" width="0.8" height="0.8" fill="#888"/>
<rect x="228.71" y="249.05" width="0.8" height="0.8" fill="#333"/>
<rect x="224.29" y="259.64" width="0.8" height="0.8" fill="#888"/>
<rect x="228.29" y="249.93" width="0.8" height="0.8" fill="#888"/>
<rect x="233.88" y="237.27" width="0.8" height="0.8" fill="#888"/>
<rect x="231.55" y="243.38" width="0.8" height="0.8" fill="#333"/>
<rect x="231.49" y="247.68" width="0.8" height="0.8" fill="#888"/>
<rect x="226.59" y="261.13" width="0.8" height="0.8" fill="#666"/>
<rect x="233.61" y="236.57" width="0.8" height="0.8" fill="#333"/>
<rect x="230.56" y="253.97" width="0.8" height="0.8" fill="#666"/>
<rect x="223.54" y="258.9" width="0.8" height="0.8" fill="#666"/>
<rect x="232.76" y="245.19" width="0.8" height="0.8" fill="#333"/>
<rect x="227.13" y="259.18" width="0.8" height="0.8" fill="#444"/>
<rect x="229.07" y="250.48" width="0.8" height="0.8" fill="#333"/>
<rect x="229.2" y="254.63" width="0.8" height="0.8" fill="#666"/>
<rect x="234.04" y="237.79" width="0.8" height="0.8" fill="#444"/>
<rect x="231.74" y="243.61" width="0.8" height="0.8" fill="#444"/>
<rect x="233.31" y="242.02" width="0.8" height="0.8" fill="#666"/>
<rect x="233.18" y="235.82" width="0.8" height="0.8" fill="#333"/>
<rect x="232.45" y="235.64" width="0.8" height="0.8" fill="#444"/>
<rect x="226.09" y="257.3" width="0.8" height="0.8" fill="#666"/>
<rect x="226.16" y="260.62" width="0.8" height="0.8" fill="#444"/>
<rect x="228.63" y="249.19" width="0.8" height="0.8" fill="#444"/>
<rect x="231.14" y="243.85" width="0.8" height="0.8" fill="#444"/>
<rect x="225.81" y="254.6" width="0.8" height="0.8" fill="#444"/>
<rect x="227.28" y="251.99" width="0.8" height="0.8" fill="#888"/>
<rect x="224.97" y="256.44" width="0.8" height="0.8" fill="#666"/>
<rect x="229.97" y="246.98" width="0.8" height="0.8" fill="#888"/>
<rect x="232.45" y="239.55" width="0.8" height="0.8" fill="#444"/>
<rect x="227.63" y="251.05" width="0.8" height="0.8" fill="#888"/>
<rect x="226.76" y="253.48" width="0.8" height="0.8" fill="#333"/>
<rect x="233.26" y="235.79" width="0.8" height="0.8" fill="#888"/>
<rect x="227.12" y="254.01" width="0.8" height="0.8" fill="#888"/>
<rect x="232.72" y="240.74" width="0.8" height="0.8" fill="#444"/>
<rect x="232.42" y="243.12" width="0.8" height="0.8" fill="#444"/>
<rect x="233.15" y="244.84" width="0.8" height="0.8" fill="#333"/>
<rect x="228.38" y="251.65" width="0.8" height="0.8" fill="#444"/>
<rect x="232.67" y="238.77" width="0.8" height="0.8" fill="#888"/>
<rect x="232.59" y="235.92" width="0.8" height="0.8" fill="#333"/>
<rect x="226.18" y="255.32" width="0.8" height="0.8" fill="#444"/>
<rect x="229.25" y="256.48" width="0.8" height="0.8" fill="#888"/>
<rect x="231.86" y="253.41" width="0.8" height="0.8" fill="#333"/>
<rect x="226.06" y="256.59" width="0.8" height="0.8" fill="#333"/>
<rect x="233.33" y="237.71" width="0.8" height="0.8" fill="#444"/>
<rect x="224.36" y="256.94" width="0.8" height="0.8" fill="#333"/>
<rect x="229.01" y="251.44" width="0.8" height="0.8" fill="#888"/>
<rect x="230.77" y="249.69" width="0.8" height="0.8" fill="#888"/>
<rect x="228.91" y="261.52" width="0.8" height="0.8" fill="#333"/>
<rect x="231.82" y="249.45" width="0.8" height="0.8" fill="#666"/>
<rect x="222.31" y="260.87" width="0.8" height="0.8" fill="#444"/>
<rect x="231.87" y="242.6" width="0.8" height="0.8" fill="#333"/>
<rect x="227.92" y="255.87" width="0.8" height="0.8" fill="#888"/>
<rect x="233.35" y="242.34" width="0.8" height="0.8" fill="#333"/>
<rect x="232.49" y="235.92" width="0.8" height="0.8" fill="#666"/>
<rect x="227.51" y="259.21" width="0.8" height="0.8" fill="#444"/>
<rect x="229.15" y="247.99" width="0.8" height="0.8" fill="#333"/>
<rect x="229.24" y="249.64" width="0.8" height="0.8" fill="#333"/>
<rect x="227.64" y="253.09" width="0.8" height="0.8" fill="#444"/>
<rect x="226.57" y="259.57" width="0.8" height="0.8" fill="#888"/>
<rect x="233.72" y="243.69" width="0.8" height="0.8" fill="#666"/>
<rect x="212.77" y="233.59" width="0.8" height="0.8" fill="#666"/>
<rect x="227.25" y="233.76" width="0.8" height="0.8" fill="#444"/>
<rect x="229.89" y="233.57" width="0.8" height="0.8" fill="#444"/>
<rect x="212.13" y="233.09" width="0.8" height="0.8" fill="#444"/>
<rect x="221.25" y="233.3" width="0.8" height="0.8" fill="#888"/>
<rect x="225.42" y="233.28" width="0.8" height="0.8" fill="#666"/>
<rect x="212.29" y="232.99" width="0.8" height="0.8" fill="#444"/>
<rect x="214.18" y="234.07" width="0.8" height="0.8" fill="#666"/>
<rect x="208.43" y="233.58" width="0.8" height="0.8" fill="#666"/>
<rect x="252.18" y="251.93" width="0.8" height="0.8" fill="#aaa"/>
<rect x="259.2" y="253.23" width="0.8" height="0.8" fill="#666"/>
<rect x="250.03" y="255.49" width="0.8" height="0.8" fill="#aaa"/>
<rect x="281.61" y="257.06" width="0.8" height="0.8" fill="#444"/>
<rect x="277.75" y="249.81" width="0.8" height="0.8" fill="#888"/>
<rect x="255.22" y="256.49" width="0.8" height="0.8" fill="#666"/>
<rect x="257.6" y="256.1" width="0.8" height="0.8" fill="#666"/>
<rect x="273.2" y="252.12" width="0.8" height="0.8" fill="#aaa"/>
<rect x="262.47" y="246.04" width="0.8" height="0.8" fill="#222"/>
<rect x="249.47" y="255.07" width="0.8" height="0.8" fill="#444"/>
<rect x="253.9" y="257" width="0.8" height="0.8" fill="#222"/>
<rect x="244.29" y="253.63" width="0.8" height="0.8" fill="#aaa"/>
<rect x="236.69" y="254.08" width="0.8" height="0.8" fill="#888"/>
<rect x="281.95" y="259.47" width="0.8" height="0.8" fill="#666"/>
<rect x="236.82" y="256.66" width="0.8" height="0.8" fill="#666"/>
<rect x="246.12" y="258.93" width="0.8" height="0.8" fill="#222"/>
<rect x="259.84" y="260.08" width="0.8" height="0.8" fill="#666"/>
<rect x="248.58" y="255.95" width="0.8" height="0.8" fill="#666"/>
<rect x="244.11" y="261.8" width="0.8" height="0.8" fill="#222"/>
<rect x="258.68" y="256.96" width="0.8" height="0.8" fill="#444"/>
<rect x="238.74" y="260.28" width="0.8" height="0.8" fill="#222"/>
<rect x="236.65" y="253.58" width="0.8" height="0.8" fill="#666"/>
<rect x="259.14" y="254.5" width="0.8" height="0.8" fill="#aaa"/>
<rect x="238.34" y="256.24" width="0.8" height="0.8" fill="#222"/>
<rect x="244.33" y="260.09" width="0.8" height="0.8" fill="#888"/>
<rect x="247.48" y="254.68" width="0.8" height="0.8" fill="#aaa"/>
<rect x="280.55" y="250.22" width="0.8" height="0.8" fill="#aaa"/>
<rect x="237.26" y="254.46" width="0.8" height="0.8" fill="#888"/>
<rect x="279.07" y="250.31" width="0.8" height="0.8" fill="#444"/>
<rect x="258.23" y="245.5" width="0.8" height="0.8" fill="#666"/>
<rect x="243.13" y="258.53" width="0.8" height="0.8" fill="#666"/>
<rect x="240.27" y="259.1" width="0.8" height="0.8" fill="#444"/>
<rect x="255.64" y="254.08" width="0.8" height="0.8" fill="#222"/>
<rect x="277.99" y="254.23" width="0.8" height="0.8" fill="#888"/>
<rect x="281.83" y="254.66" width="0.8" height="0.8" fill="#444"/>
<rect x="246.71" y="253.55" width="0.8" height="0.8" fill="#888"/>
<rect x="254.71" y="253.58" width="0.8" height="0.8" fill="#666"/>
<rect x="250.96" y="259.53" width="0.8" height="0.8" fill="#222"/>
<rect x="247.66" y="253.12" width="0.8" height="0.8" fill="#666"/>
<rect x="249.62" y="245.85" width="0.8" height="0.8" fill="#444"/>
<rect x="237.09" y="249.41" width="0.8" height="0.8" fill="#222"/>
<rect x="249.93" y="253.87" width="0.8" height="0.8" fill="#444"/>
<rect x="251.97" y="253.56" width="0.8" height="0.8" fill="#aaa"/>
<rect x="243.89" y="254.89" width="0.8" height="0.8" fill="#888"/>
<rect x="277.2" y="251.5" width="0.8" height="0.8" fill="#aaa"/>
<rect x="246.46" y="249.39" width="0.8" height="0.8" fill="#666"/>
<rect x="259.48" y="247.23" width="0.8" height="0.8" fill="#aaa"/>
<rect x="280.4" y="257.04" width="0.8" height="0.8" fill="#444"/>
<rect x="260.64" y="253.77" width="0.8" height="0.8" fill="#888"/>
<rect x="253.75" y="257.52" width="0.8" height="0.8" fill="#aaa"/>
<rect x="249.82" y="256.51" width="0.8" height="0.8" fill="#888"/>
<rect x="248.81" y="251.75" width="0.8" height="0.8" fill="#888"/>
<rect x="237.38" y="253.01" width="0.8" height="0.8" fill="#222"/>
<rect x="263.4" y="253.76" width="0.8" height="0.8" fill="#444"/>
<rect x="268.88" y="256.88" width="0.8" height="0.8" fill="#222"/>
<rect x="262.5" y="252.13" width="0.8" height="0.8" fill="#666"/>
<rect x="260.7" y="252.04" width="0.8" height="0.8" fill="#444"/>
<rect x="260.8" y="256.75" width="0.8" height="0.8" fill="#222"/>
<rect x="259.43" y="252.05" width="0.8" height="0.8" fill="#888"/>
<rect x="265.13" y="257.66" width="0.8" height="0.8" fill="#888"/>
<rect x="267.75" y="254.6" width="0.8" height="0.8" fill="#aaa"/>
<rect x="259.91" y="252.13" width="0.8" height="0.8" fill="#aaa"/>
<rect x="249.35" y="248.69" width="0.8" height="0.8" fill="#aaa"/>
<rect x="277.67" y="258.68" width="0.8" height="0.8" fill="#666"/>
<rect x="239.64" y="256.18" width="0.8" height="0.8" fill="#666"/>
<rect x="253.64" y="256.3" width="0.8" height="0.8" fill="#888"/>
<rect x="242.59" y="251.81" width="0.8" height="0.8" fill="#666"/>
<rect x="247.2" y="252.02" width="0.8" height="0.8" fill="#222"/>
<rect x="263.27" y="254.54" width="0.8" height="0.8" fill="#aaa"/>
<rect x="240.44" y="248.52" width="0.8" height="0.8" fill="#888"/>
<rect x="280.28" y="254.3" width="0.8" height="0.8" fill="#222"/>
<rect x="240.47" y="249.54" width="0.8" height="0.8" fill="#444"/>
<rect x="258.78" y="254.17" width="0.8" height="0.8" fill="#888"/>
<rect x="258.62" y="252.06" width="0.8" height="0.8" fill="#444"/>
<rect x="244.84" y="258.6" width="0.8" height="0.8" fill="#aaa"/>
<rect x="258.76" y="244.11" width="0.8" height="0.8" fill="#555"/>
<rect x="277.43" y="244.91" width="0.8" height="0.8" fill="#555"/>
<rect x="257.39" y="243.97" width="0.8" height="0.8" fill="#aaa"/>
<rect x="265.19" y="236.53" width="0.8" height="0.8" fill="#aaa"/>
<rect x="247.39" y="245.47" width="0.8" height="0.8" fill="#888"/>
<rect x="271.86" y="235.24" width="0.8" height="0.8" fill="#888"/>
<rect x="268.12" y="238.4" width="0.8" height="0.8" fill="#888"/>
<rect x="253.24" y="240.33" width="0.8" height="0.8" fill="#888"/>
<rect x="269.86" y="236.55" width="0.8" height="0.8" fill="#555"/>
<rect x="264.29" y="246.56" width="0.8" height="0.8" fill="#aaa"/>
<rect x="249.03" y="234.78" width="0.8" height="0.8" fill="#888"/>
<rect x="267.84" y="234.04" width="0.8" height="0.8" fill="#aaa"/>
<rect x="243.22" y="244.78" width="0.8" height="0.8" fill="#888"/>
<rect x="255.81" y="248.9" width="0.8" height="0.8" fill="#555"/>
<rect x="204.2" y="173.4" width="108.4" height="91.9" fill="none" stroke="#333" stroke-width="1"/>
<rect x="235.4" y="227.6" width="55.4" height="36.5" fill="none" stroke="#111" stroke-width="1.3"/>
<line x1="325.3" y1="261.8" x2="328.5" y2="261.8" stroke="#333" stroke-width="0.9"/>
<line x1="325.3" y1="258.3" x2="328.5" y2="258.3" stroke="#333" stroke-width="0.9"/>
<line x1="325.3" y1="254.8" x2="328.5" y2="254.8" stroke="#333" stroke-width="0.9"/>
<line x1="325.3" y1="251.3" x2="328.5" y2="251.3" stroke="#333" stroke-width="0.9"/>
<line x1="323" y1="247.8" x2="328.5" y2="247.8" stroke="#333" stroke-width="0.9"/>
<line x1="325.3" y1="244.3" x2="328.5" y2="244.3" stroke="#333" stroke-width="0.9"/>
<line x1="325.3" y1="240.8" x2="328.5" y2="240.8" stroke="#333" stroke-width="0.9"/>
<line x1="325.3" y1="237.3" x2="328.5" y2="237.3" stroke="#333" stroke-width="0.9"/>
<line x1="325.3" y1="233.8" x2="328.5" y2="233.8" stroke="#333" stroke-width="0.9"/>
<line x1="323" y1="230.3" x2="328.5" y2="230.3" stroke="#333" stroke-width="0.9"/>
<line x1="325.3" y1="226.8" x2="328.5" y2="226.8" stroke="#333" stroke-width="0.9"/>
<line x1="325.3" y1="223.3" x2="328.5" y2="223.3" stroke="#333" stroke-width="0.9"/>
<line x1="325.3" y1="219.8" x2="328.5" y2="219.8" stroke="#333" stroke-width="0.9"/>
<line x1="325.3" y1="216.3" x2="328.5" y2="216.3" stroke="#333" stroke-width="0.9"/>
<line x1="323" y1="212.8" x2="328.5" y2="212.8" stroke="#333" stroke-width="0.9"/>
<line x1="325.3" y1="209.3" x2="328.5" y2="209.3" stroke="#333" stroke-width="0.9"/>
<line x1="325.3" y1="205.8" x2="328.5" y2="205.8" stroke="#333" stroke-width="0.9"/>
<line x1="325.3" y1="202.3" x2="328.5" y2="202.3" stroke="#333" stroke-width="0.9"/>
<line x1="325.3" y1="198.8" x2="328.5" y2="198.8" stroke="#333" stroke-width="0.9"/>
<line x1="323" y1="195.3" x2="328.5" y2="195.3" stroke="#333" stroke-width="0.9"/>
<line x1="325.3" y1="191.8" x2="328.5" y2="191.8" stroke="#333" stroke-width="0.9"/>
<line x1="325.3" y1="188.3" x2="328.5" y2="188.3" stroke="#333" stroke-width="0.9"/>
<line x1="325.3" y1="184.8" x2="328.5" y2="184.8" stroke="#333" stroke-width="0.9"/>
<line x1="325.3" y1="181.3" x2="328.5" y2="181.3" stroke="#333" stroke-width="0.9"/>
<line x1="323" y1="177.8" x2="328.5" y2="177.8" stroke="#333" stroke-width="0.9"/>
<line x1="325.3" y1="174.3" x2="328.5" y2="174.3" stroke="#333" stroke-width="0.9"/>
<line x1="343.7" y1="265.3" x2="343.7" y2="271.5" stroke="#333" stroke-width="0.9"/>
<line x1="351.92" y1="265.3" x2="351.92" y2="268.7" stroke="#333" stroke-width="0.85"/>
<line x1="356.73" y1="265.3" x2="356.73" y2="268.7" stroke="#333" stroke-width="0.85"/>
<line x1="360.14" y1="265.3" x2="360.14" y2="268.7" stroke="#333" stroke-width="0.85"/>
<line x1="362.78" y1="265.3" x2="362.78" y2="268.7" stroke="#333" stroke-width="0.85"/>
<line x1="364.94" y1="265.3" x2="364.94" y2="268.7" stroke="#333" stroke-width="0.85"/>
<line x1="366.77" y1="265.3" x2="366.77" y2="268.7" stroke="#333" stroke-width="0.85"/>
<line x1="368.35" y1="265.3" x2="368.35" y2="268.7" stroke="#333" stroke-width="0.85"/>
<line x1="369.75" y1="265.3" x2="369.75" y2="268.7" stroke="#333" stroke-width="0.85"/>
<line x1="371" y1="265.3" x2="371" y2="271.5" stroke="#333" stroke-width="0.9"/>
<line x1="379.22" y1="265.3" x2="379.22" y2="268.7" stroke="#333" stroke-width="0.85"/>
<line x1="384.03" y1="265.3" x2="384.03" y2="268.7" stroke="#333" stroke-width="0.85"/>
<line x1="387.44" y1="265.3" x2="387.44" y2="268.7" stroke="#333" stroke-width="0.85"/>
<line x1="390.08" y1="265.3" x2="390.08" y2="268.7" stroke="#333" stroke-width="0.85"/>
<line x1="392.24" y1="265.3" x2="392.24" y2="268.7" stroke="#333" stroke-width="0.85"/>
<line x1="394.07" y1="265.3" x2="394.07" y2="268.7" stroke="#333" stroke-width="0.85"/>
<line x1="395.65" y1="265.3" x2="395.65" y2="268.7" stroke="#333" stroke-width="0.85"/>
<line x1="397.05" y1="265.3" x2="397.05" y2="268.7" stroke="#333" stroke-width="0.85"/>
<line x1="398.3" y1="265.3" x2="398.3" y2="271.5" stroke="#333" stroke-width="0.9"/>
<line x1="406.52" y1="265.3" x2="406.52" y2="268.7" stroke="#333" stroke-width="0.85"/>
<line x1="411.33" y1="265.3" x2="411.33" y2="268.7" stroke="#333" stroke-width="0.85"/>
<line x1="414.74" y1="265.3" x2="414.74" y2="268.7" stroke="#333" stroke-width="0.85"/>
<line x1="417.38" y1="265.3" x2="417.38" y2="268.7" stroke="#333" stroke-width="0.85"/>
<line x1="419.54" y1="265.3" x2="419.54" y2="268.7" stroke="#333" stroke-width="0.85"/>
<line x1="421.37" y1="265.3" x2="421.37" y2="268.7" stroke="#333" stroke-width="0.85"/>
<line x1="422.95" y1="265.3" x2="422.95" y2="268.7" stroke="#333" stroke-width="0.85"/>
<line x1="424.35" y1="265.3" x2="424.35" y2="268.7" stroke="#333" stroke-width="0.85"/>
<line x1="425.6" y1="265.3" x2="425.6" y2="271.5" stroke="#333" stroke-width="0.9"/>
<line x1="433.82" y1="265.3" x2="433.82" y2="268.7" stroke="#333" stroke-width="0.85"/>
<line x1="341.8" y1="265.3" x2="341.8" y2="268.7" stroke="#333" stroke-width="0.85"/>
<line x1="339.9" y1="265.3" x2="339.9" y2="268.7" stroke="#333" stroke-width="0.85"/>
<line x1="338" y1="265.3" x2="338" y2="268.7" stroke="#333" stroke-width="0.85"/>
<line x1="336.1" y1="265.3" x2="336.1" y2="268.7" stroke="#333" stroke-width="0.85"/>
<line x1="334.2" y1="265.3" x2="334.2" y2="268.7" stroke="#333" stroke-width="0.85"/>
<line x1="332.3" y1="265.3" x2="332.3" y2="268.7" stroke="#333" stroke-width="0.85"/>
<line x1="330.4" y1="265.3" x2="330.4" y2="268.7" stroke="#333" stroke-width="0.85"/>
<text x="338.7" y="279.7" font-size="8.2" font-weight="bold">10<tspan font-size="4.3" dy="-2.6">2</tspan></text>
<text x="366" y="279.7" font-size="8.2" font-weight="bold">10<tspan font-size="4.3" dy="-2.6">3</tspan></text>
<text x="393.3" y="279.7" font-size="8.2" font-weight="bold">10<tspan font-size="4.3" dy="-2.6">4</tspan></text>
<text x="420.6" y="279.7" font-size="8.2" font-weight="bold">10<tspan font-size="4.3" dy="-2.6">5</tspan></text>
<path d="M328.5,261.8 L328.5,236.3 Q329.3,234.7 332.1,234.5 L354.8,234.5 Q356,234.5 356,235.7 L356,248 L346,261.8 Z" fill="#383838"/>
<rect x="355.27" y="247.64" width="0.8" height="0.8" fill="#444"/>
<rect x="355.93" y="240.08" width="0.8" height="0.8" fill="#666"/>
<rect x="356.92" y="248.73" width="0.8" height="0.8" fill="#333"/>
<rect x="357.55" y="244.12" width="0.8" height="0.8" fill="#333"/>
<rect x="350.28" y="254.88" width="0.8" height="0.8" fill="#888"/>
<rect x="347.5" y="260.97" width="0.8" height="0.8" fill="#444"/>
<rect x="354.92" y="241.5" width="0.8" height="0.8" fill="#333"/>
<rect x="350.24" y="256.14" width="0.8" height="0.8" fill="#333"/>
<rect x="346.87" y="260.09" width="0.8" height="0.8" fill="#444"/>
<rect x="351.22" y="254.81" width="0.8" height="0.8" fill="#333"/>
<rect x="355.62" y="256.09" width="0.8" height="0.8" fill="#888"/>
<rect x="356.46" y="242.68" width="0.8" height="0.8" fill="#444"/>
<rect x="350.21" y="254.35" width="0.8" height="0.8" fill="#888"/>
<rect x="355.28" y="236.5" width="0.8" height="0.8" fill="#888"/>
<rect x="355.07" y="238.8" width="0.8" height="0.8" fill="#333"/>
<rect x="345.16" y="261.32" width="0.8" height="0.8" fill="#444"/>
<rect x="347.3" y="259.44" width="0.8" height="0.8" fill="#333"/>
<rect x="347.06" y="259.36" width="0.8" height="0.8" fill="#333"/>
<rect x="355.29" y="248.67" width="0.8" height="0.8" fill="#444"/>
<rect x="355.31" y="246.47" width="0.8" height="0.8" fill="#333"/>
<rect x="350.72" y="254.13" width="0.8" height="0.8" fill="#333"/>
<rect x="355.61" y="236.48" width="0.8" height="0.8" fill="#444"/>
<rect x="352.95" y="255.34" width="0.8" height="0.8" fill="#333"/>
<rect x="356.02" y="238.31" width="0.8" height="0.8" fill="#444"/>
<rect x="355.5" y="239.42" width="0.8" height="0.8" fill="#666"/>
<rect x="349.85" y="258.09" width="0.8" height="0.8" fill="#333"/>
<rect x="347.45" y="258.68" width="0.8" height="0.8" fill="#666"/>
<rect x="355.31" y="247.32" width="0.8" height="0.8" fill="#333"/>
<rect x="355.74" y="245.35" width="0.8" height="0.8" fill="#333"/>
<rect x="355.04" y="246.84" width="0.8" height="0.8" fill="#888"/>
<rect x="356.49" y="242.36" width="0.8" height="0.8" fill="#666"/>
<rect x="351.97" y="252.19" width="0.8" height="0.8" fill="#333"/>
<rect x="356.32" y="235.69" width="0.8" height="0.8" fill="#888"/>
<rect x="355.77" y="248.58" width="0.8" height="0.8" fill="#444"/>
<rect x="353.13" y="250.45" width="0.8" height="0.8" fill="#444"/>
<rect x="356.23" y="237.61" width="0.8" height="0.8" fill="#666"/>
<rect x="348.47" y="261.09" width="0.8" height="0.8" fill="#444"/>
<rect x="351.42" y="253.22" width="0.8" height="0.8" fill="#666"/>
<rect x="357.6" y="235.8" width="0.8" height="0.8" fill="#444"/>
<rect x="354.98" y="242.18" width="0.8" height="0.8" fill="#333"/>
<rect x="352.24" y="251.56" width="0.8" height="0.8" fill="#333"/>
<rect x="356.34" y="247.3" width="0.8" height="0.8" fill="#666"/>
<rect x="358.24" y="251.7" width="0.8" height="0.8" fill="#666"/>
<rect x="355.46" y="242.78" width="0.8" height="0.8" fill="#666"/>
<rect x="354.89" y="238.75" width="0.8" height="0.8" fill="#666"/>
<rect x="350.61" y="254" width="0.8" height="0.8" fill="#888"/>
<rect x="355.63" y="238.89" width="0.8" height="0.8" fill="#888"/>
<rect x="355.29" y="251.06" width="0.8" height="0.8" fill="#666"/>
<rect x="354.8" y="256.07" width="0.8" height="0.8" fill="#888"/>
<rect x="357.37" y="244.52" width="0.8" height="0.8" fill="#666"/>
<rect x="354.01" y="249.44" width="0.8" height="0.8" fill="#333"/>
<rect x="356.36" y="239.43" width="0.8" height="0.8" fill="#333"/>
<rect x="355.44" y="240.54" width="0.8" height="0.8" fill="#888"/>
<rect x="355.6" y="237.27" width="0.8" height="0.8" fill="#666"/>
<rect x="357.46" y="249.62" width="0.8" height="0.8" fill="#333"/>
<rect x="354.15" y="250.86" width="0.8" height="0.8" fill="#888"/>
<rect x="354.49" y="249.86" width="0.8" height="0.8" fill="#333"/>
<rect x="349.75" y="258.95" width="0.8" height="0.8" fill="#666"/>
<rect x="355.05" y="236.76" width="0.8" height="0.8" fill="#444"/>
<rect x="356" y="237.82" width="0.8" height="0.8" fill="#888"/>
<rect x="357" y="236.65" width="0.8" height="0.8" fill="#333"/>
<rect x="350.86" y="253.53" width="0.8" height="0.8" fill="#444"/>
<rect x="347.73" y="258.99" width="0.8" height="0.8" fill="#888"/>
<rect x="347.02" y="258.91" width="0.8" height="0.8" fill="#333"/>
<rect x="354.14" y="251.74" width="0.8" height="0.8" fill="#888"/>
<rect x="352.72" y="251.07" width="0.8" height="0.8" fill="#333"/>
<rect x="352.55" y="251.6" width="0.8" height="0.8" fill="#333"/>
<rect x="355.78" y="235.82" width="0.8" height="0.8" fill="#888"/>
<rect x="356.29" y="235.71" width="0.8" height="0.8" fill="#666"/>
<rect x="355.19" y="237.31" width="0.8" height="0.8" fill="#888"/>
<rect x="348.77" y="261.05" width="0.8" height="0.8" fill="#888"/>
<rect x="351.91" y="261.93" width="0.8" height="0.8" fill="#333"/>
<rect x="350.42" y="259.37" width="0.8" height="0.8" fill="#888"/>
<rect x="349.39" y="256.29" width="0.8" height="0.8" fill="#444"/>
<rect x="354.85" y="237.97" width="0.8" height="0.8" fill="#333"/>
<rect x="356.15" y="245.17" width="0.8" height="0.8" fill="#888"/>
<rect x="352.25" y="252.1" width="0.8" height="0.8" fill="#333"/>
<rect x="355.1" y="241.45" width="0.8" height="0.8" fill="#444"/>
<rect x="355.09" y="235.42" width="0.8" height="0.8" fill="#333"/>
<rect x="348.06" y="261.23" width="0.8" height="0.8" fill="#888"/>
<rect x="355.09" y="236.58" width="0.8" height="0.8" fill="#666"/>
<rect x="352.69" y="251.52" width="0.8" height="0.8" fill="#333"/>
<rect x="351.06" y="253.6" width="0.8" height="0.8" fill="#333"/>
<rect x="355.26" y="256.47" width="0.8" height="0.8" fill="#333"/>
<rect x="355.41" y="258.93" width="0.8" height="0.8" fill="#333"/>
<rect x="355.38" y="235.8" width="0.8" height="0.8" fill="#888"/>
<rect x="353.46" y="251.49" width="0.8" height="0.8" fill="#666"/>
<rect x="354.38" y="259.05" width="0.8" height="0.8" fill="#888"/>
<rect x="355.12" y="240.7" width="0.8" height="0.8" fill="#888"/>
<rect x="357.39" y="247.74" width="0.8" height="0.8" fill="#888"/>
<rect x="355.01" y="247.01" width="0.8" height="0.8" fill="#888"/>
<rect x="354.9" y="236.61" width="0.8" height="0.8" fill="#666"/>
<rect x="353.75" y="249.85" width="0.8" height="0.8" fill="#666"/>
<rect x="351.5" y="252.98" width="0.8" height="0.8" fill="#333"/>
<rect x="355.39" y="244.22" width="0.8" height="0.8" fill="#888"/>
<rect x="355.58" y="240.77" width="0.8" height="0.8" fill="#666"/>
<rect x="355.91" y="237.07" width="0.8" height="0.8" fill="#888"/>
<rect x="356.82" y="247.85" width="0.8" height="0.8" fill="#666"/>
<rect x="353.45" y="255.86" width="0.8" height="0.8" fill="#333"/>
<rect x="354.8" y="247.65" width="0.8" height="0.8" fill="#444"/>
<rect x="354.81" y="236.95" width="0.8" height="0.8" fill="#666"/>
<rect x="354.96" y="236.15" width="0.8" height="0.8" fill="#444"/>
<rect x="352.13" y="253.94" width="0.8" height="0.8" fill="#888"/>
<rect x="352.4" y="252.72" width="0.8" height="0.8" fill="#444"/>
<rect x="354.68" y="248.89" width="0.8" height="0.8" fill="#666"/>
<rect x="357.27" y="240.51" width="0.8" height="0.8" fill="#444"/>
<rect x="352.79" y="256.83" width="0.8" height="0.8" fill="#444"/>
<rect x="352.94" y="250.58" width="0.8" height="0.8" fill="#333"/>
<rect x="355.54" y="242.6" width="0.8" height="0.8" fill="#888"/>
<rect x="351.26" y="259.79" width="0.8" height="0.8" fill="#666"/>
<rect x="355.53" y="242.78" width="0.8" height="0.8" fill="#888"/>
<rect x="351.36" y="253.56" width="0.8" height="0.8" fill="#666"/>
<rect x="355.93" y="239" width="0.8" height="0.8" fill="#333"/>
<rect x="357.16" y="249.89" width="0.8" height="0.8" fill="#333"/>
<rect x="354.02" y="250.79" width="0.8" height="0.8" fill="#333"/>
<rect x="355.22" y="247.38" width="0.8" height="0.8" fill="#444"/>
<rect x="347.23" y="259.63" width="0.8" height="0.8" fill="#444"/>
<rect x="350.27" y="257.91" width="0.8" height="0.8" fill="#333"/>
<rect x="350.39" y="260.56" width="0.8" height="0.8" fill="#888"/>
<rect x="355.27" y="245.16" width="0.8" height="0.8" fill="#888"/>
<rect x="348.66" y="259.21" width="0.8" height="0.8" fill="#444"/>
<rect x="356.9" y="250.18" width="0.8" height="0.8" fill="#333"/>
<rect x="347.64" y="259.32" width="0.8" height="0.8" fill="#444"/>
<rect x="358.53" y="255.95" width="0.8" height="0.8" fill="#444"/>
<rect x="349.2" y="255.77" width="0.8" height="0.8" fill="#666"/>
<rect x="358.89" y="253.3" width="0.8" height="0.8" fill="#444"/>
<rect x="356.06" y="235.77" width="0.8" height="0.8" fill="#444"/>
<rect x="352.08" y="252.94" width="0.8" height="0.8" fill="#444"/>
<rect x="355.3" y="244.02" width="0.8" height="0.8" fill="#333"/>
<rect x="356.31" y="246.08" width="0.8" height="0.8" fill="#888"/>
<rect x="355.99" y="247.68" width="0.8" height="0.8" fill="#666"/>
<rect x="354.96" y="239.72" width="0.8" height="0.8" fill="#444"/>
<rect x="354.72" y="252.39" width="0.8" height="0.8" fill="#888"/>
<rect x="352.48" y="258.07" width="0.8" height="0.8" fill="#444"/>
<rect x="347.88" y="257.69" width="0.8" height="0.8" fill="#888"/>
<rect x="355.34" y="238.83" width="0.8" height="0.8" fill="#444"/>
<rect x="351.12" y="257.82" width="0.8" height="0.8" fill="#333"/>
<rect x="354.92" y="248.99" width="0.8" height="0.8" fill="#666"/>
<rect x="355.75" y="241.93" width="0.8" height="0.8" fill="#666"/>
<rect x="352.27" y="255.16" width="0.8" height="0.8" fill="#888"/>
<rect x="356.71" y="243.5" width="0.8" height="0.8" fill="#444"/>
<rect x="347.92" y="258.5" width="0.8" height="0.8" fill="#333"/>
<rect x="355.15" y="241.95" width="0.8" height="0.8" fill="#333"/>
<rect x="355.81" y="239.86" width="0.8" height="0.8" fill="#666"/>
<rect x="355.82" y="245.1" width="0.8" height="0.8" fill="#666"/>
<rect x="353.41" y="250.28" width="0.8" height="0.8" fill="#333"/>
<rect x="358.39" y="238.63" width="0.8" height="0.8" fill="#333"/>
<rect x="354.82" y="236.28" width="0.8" height="0.8" fill="#888"/>
<rect x="355.62" y="244.78" width="0.8" height="0.8" fill="#333"/>
<rect x="355.32" y="237.56" width="0.8" height="0.8" fill="#888"/>
<rect x="345.81" y="260.73" width="0.8" height="0.8" fill="#444"/>
<rect x="356.39" y="248.87" width="0.8" height="0.8" fill="#666"/>
<rect x="350.82" y="254.18" width="0.8" height="0.8" fill="#666"/>
<rect x="351.7" y="254.74" width="0.8" height="0.8" fill="#888"/>
<rect x="358.45" y="235.93" width="0.8" height="0.8" fill="#666"/>
<rect x="355.14" y="242.56" width="0.8" height="0.8" fill="#888"/>
<rect x="350.65" y="256.78" width="0.8" height="0.8" fill="#333"/>
<rect x="355.24" y="236.56" width="0.8" height="0.8" fill="#444"/>
<rect x="355.25" y="246.27" width="0.8" height="0.8" fill="#666"/>
<rect x="357.87" y="236.78" width="0.8" height="0.8" fill="#888"/>
<rect x="355.72" y="248.88" width="0.8" height="0.8" fill="#333"/>
<rect x="354.64" y="252.69" width="0.8" height="0.8" fill="#666"/>
<rect x="354.82" y="246.55" width="0.8" height="0.8" fill="#888"/>
<rect x="355.1" y="237.15" width="0.8" height="0.8" fill="#444"/>
<rect x="357.38" y="261.58" width="0.8" height="0.8" fill="#888"/>
<rect x="354.83" y="239.61" width="0.8" height="0.8" fill="#666"/>
<rect x="351.92" y="254.39" width="0.8" height="0.8" fill="#333"/>
<rect x="355.74" y="240.49" width="0.8" height="0.8" fill="#888"/>
<rect x="355.59" y="248.82" width="0.8" height="0.8" fill="#444"/>
<rect x="345.29" y="261.54" width="0.8" height="0.8" fill="#666"/>
<rect x="356.17" y="238.93" width="0.8" height="0.8" fill="#444"/>
<rect x="355.44" y="240.41" width="0.8" height="0.8" fill="#888"/>
<rect x="350.34" y="257.04" width="0.8" height="0.8" fill="#666"/>
<rect x="347.66" y="261.74" width="0.8" height="0.8" fill="#888"/>
<rect x="355.56" y="236.6" width="0.8" height="0.8" fill="#888"/>
<rect x="348.24" y="257.4" width="0.8" height="0.8" fill="#666"/>
<rect x="355.45" y="237.03" width="0.8" height="0.8" fill="#444"/>
<rect x="347.32" y="262.09" width="0.8" height="0.8" fill="#888"/>
<rect x="357.42" y="249.62" width="0.8" height="0.8" fill="#333"/>
<rect x="351.66" y="254.2" width="0.8" height="0.8" fill="#333"/>
<rect x="349.97" y="258.48" width="0.8" height="0.8" fill="#666"/>
<rect x="349.59" y="255.88" width="0.8" height="0.8" fill="#333"/>
<rect x="348.79" y="258.05" width="0.8" height="0.8" fill="#888"/>
<rect x="357.2" y="259.13" width="0.8" height="0.8" fill="#666"/>
<rect x="354.99" y="243.85" width="0.8" height="0.8" fill="#666"/>
<rect x="351.34" y="254" width="0.8" height="0.8" fill="#888"/>
<rect x="356.33" y="237.24" width="0.8" height="0.8" fill="#666"/>
<rect x="357.78" y="259.82" width="0.8" height="0.8" fill="#666"/>
<rect x="354.86" y="243.2" width="0.8" height="0.8" fill="#888"/>
<rect x="348.44" y="257.07" width="0.8" height="0.8" fill="#888"/>
<rect x="355.15" y="241.35" width="0.8" height="0.8" fill="#888"/>
<rect x="354.84" y="247.34" width="0.8" height="0.8" fill="#444"/>
<rect x="355.96" y="239.49" width="0.8" height="0.8" fill="#333"/>
<rect x="353" y="250.66" width="0.8" height="0.8" fill="#666"/>
<rect x="357" y="235.24" width="0.8" height="0.8" fill="#333"/>
<rect x="354.99" y="247.2" width="0.8" height="0.8" fill="#333"/>
<rect x="356.74" y="238.29" width="0.8" height="0.8" fill="#444"/>
<rect x="355.27" y="241.85" width="0.8" height="0.8" fill="#444"/>
<rect x="355.99" y="240.46" width="0.8" height="0.8" fill="#444"/>
<rect x="355.31" y="248.46" width="0.8" height="0.8" fill="#888"/>
<rect x="349.38" y="261.38" width="0.8" height="0.8" fill="#888"/>
<rect x="355.99" y="241.7" width="0.8" height="0.8" fill="#666"/>
<rect x="354.96" y="242.28" width="0.8" height="0.8" fill="#444"/>
<rect x="351.8" y="255.52" width="0.8" height="0.8" fill="#888"/>
<rect x="355.49" y="238.66" width="0.8" height="0.8" fill="#333"/>
<rect x="349.69" y="257.07" width="0.8" height="0.8" fill="#666"/>
<rect x="355.21" y="238.68" width="0.8" height="0.8" fill="#444"/>
<rect x="357.46" y="244.78" width="0.8" height="0.8" fill="#333"/>
<rect x="354.8" y="237.94" width="0.8" height="0.8" fill="#888"/>
<rect x="349.43" y="260.84" width="0.8" height="0.8" fill="#888"/>
<rect x="354.94" y="249.85" width="0.8" height="0.8" fill="#333"/>
<rect x="352.39" y="252.09" width="0.8" height="0.8" fill="#666"/>
<rect x="354.86" y="239.3" width="0.8" height="0.8" fill="#444"/>
<rect x="354.98" y="242.29" width="0.8" height="0.8" fill="#333"/>
<rect x="355.63" y="235.72" width="0.8" height="0.8" fill="#333"/>
<rect x="351.18" y="253.61" width="0.8" height="0.8" fill="#333"/>
<rect x="352.79" y="252.11" width="0.8" height="0.8" fill="#888"/>
<rect x="352.91" y="254.51" width="0.8" height="0.8" fill="#888"/>
<rect x="354.96" y="237.02" width="0.8" height="0.8" fill="#333"/>
<rect x="351.76" y="252.65" width="0.8" height="0.8" fill="#888"/>
<rect x="353.73" y="249.49" width="0.8" height="0.8" fill="#333"/>
<rect x="354.59" y="250.49" width="0.8" height="0.8" fill="#333"/>
<rect x="356.33" y="235.04" width="0.8" height="0.8" fill="#444"/>
<rect x="356.27" y="249.26" width="0.8" height="0.8" fill="#666"/>
<rect x="355.93" y="240.43" width="0.8" height="0.8" fill="#333"/>
<rect x="354.41" y="255.28" width="0.8" height="0.8" fill="#444"/>
<rect x="355.31" y="235.24" width="0.8" height="0.8" fill="#333"/>
<rect x="349.92" y="254.81" width="0.8" height="0.8" fill="#333"/>
<rect x="354.24" y="255.28" width="0.8" height="0.8" fill="#666"/>
<rect x="351.33" y="257" width="0.8" height="0.8" fill="#333"/>
<rect x="358.74" y="246.9" width="0.8" height="0.8" fill="#444"/>
<rect x="352.48" y="253.35" width="0.8" height="0.8" fill="#333"/>
<rect x="355.04" y="237.57" width="0.8" height="0.8" fill="#333"/>
<rect x="355.89" y="247.55" width="0.8" height="0.8" fill="#666"/>
<rect x="352.68" y="251.17" width="0.8" height="0.8" fill="#666"/>
<rect x="349.85" y="255.96" width="0.8" height="0.8" fill="#333"/>
<rect x="355.99" y="236.11" width="0.8" height="0.8" fill="#444"/>
<rect x="352.33" y="255.89" width="0.8" height="0.8" fill="#666"/>
<rect x="348.97" y="260.29" width="0.8" height="0.8" fill="#444"/>
<rect x="354.85" y="235.7" width="0.8" height="0.8" fill="#333"/>
<rect x="351.23" y="254.34" width="0.8" height="0.8" fill="#333"/>
<rect x="352.96" y="252.91" width="0.8" height="0.8" fill="#888"/>
<rect x="354.19" y="249.55" width="0.8" height="0.8" fill="#888"/>
<rect x="352.95" y="251.14" width="0.8" height="0.8" fill="#888"/>
<rect x="354.93" y="233.35" width="0.8" height="0.8" fill="#444"/>
<rect x="333.97" y="233.94" width="0.8" height="0.8" fill="#444"/>
<rect x="342.03" y="232.98" width="0.8" height="0.8" fill="#666"/>
<rect x="341.89" y="233.63" width="0.8" height="0.8" fill="#444"/>
<rect x="346.92" y="233.19" width="0.8" height="0.8" fill="#444"/>
<rect x="354.18" y="233.04" width="0.8" height="0.8" fill="#888"/>
<rect x="350.86" y="233.77" width="0.8" height="0.8" fill="#666"/>
<rect x="335.72" y="233.81" width="0.8" height="0.8" fill="#666"/>
<rect x="335.84" y="233.23" width="0.8" height="0.8" fill="#888"/>
<rect x="352.54" y="232.99" width="0.8" height="0.8" fill="#666"/>
<rect x="334.23" y="234.05" width="0.8" height="0.8" fill="#444"/>
<rect x="338.64" y="234.18" width="0.8" height="0.8" fill="#888"/>
<rect x="402.85" y="245.11" width="0.8" height="0.8" fill="#666"/>
<rect x="388.64" y="254.72" width="0.8" height="0.8" fill="#222"/>
<rect x="381.11" y="251.17" width="0.8" height="0.8" fill="#222"/>
<rect x="392.66" y="253" width="0.8" height="0.8" fill="#222"/>
<rect x="366.79" y="250.21" width="0.8" height="0.8" fill="#222"/>
<rect x="368.84" y="254.22" width="0.8" height="0.8" fill="#222"/>
<rect x="375.26" y="252.04" width="0.8" height="0.8" fill="#888"/>
<rect x="398.76" y="253.18" width="0.8" height="0.8" fill="#222"/>
<rect x="391.09" y="249.17" width="0.8" height="0.8" fill="#222"/>
<rect x="383.5" y="256.68" width="0.8" height="0.8" fill="#888"/>
<rect x="369.5" y="255.2" width="0.8" height="0.8" fill="#222"/>
<rect x="405.62" y="252.77" width="0.8" height="0.8" fill="#888"/>
<rect x="372.63" y="246.84" width="0.8" height="0.8" fill="#444"/>
<rect x="405.27" y="243.15" width="0.8" height="0.8" fill="#888"/>
<rect x="366.01" y="246.46" width="0.8" height="0.8" fill="#666"/>
<rect x="361.63" y="259.2" width="0.8" height="0.8" fill="#666"/>
<rect x="374.88" y="248.7" width="0.8" height="0.8" fill="#666"/>
<rect x="373.31" y="255.73" width="0.8" height="0.8" fill="#666"/>
<rect x="381.76" y="254.35" width="0.8" height="0.8" fill="#444"/>
<rect x="401.28" y="249.16" width="0.8" height="0.8" fill="#444"/>
<rect x="380.78" y="250.1" width="0.8" height="0.8" fill="#aaa"/>
<rect x="400.73" y="247.57" width="0.8" height="0.8" fill="#222"/>
<rect x="364.54" y="260.68" width="0.8" height="0.8" fill="#444"/>
<rect x="376.69" y="253.15" width="0.8" height="0.8" fill="#888"/>
<rect x="384.85" y="247.47" width="0.8" height="0.8" fill="#666"/>
<rect x="392.91" y="256.98" width="0.8" height="0.8" fill="#888"/>
<rect x="365.4" y="250.9" width="0.8" height="0.8" fill="#222"/>
<rect x="384.99" y="260.75" width="0.8" height="0.8" fill="#aaa"/>
<rect x="365.66" y="253.46" width="0.8" height="0.8" fill="#222"/>
<rect x="392.56" y="257.44" width="0.8" height="0.8" fill="#666"/>
<rect x="374.53" y="254.95" width="0.8" height="0.8" fill="#444"/>
<rect x="377.38" y="249.18" width="0.8" height="0.8" fill="#222"/>
<rect x="378.84" y="257.43" width="0.8" height="0.8" fill="#aaa"/>
<rect x="381.83" y="254.14" width="0.8" height="0.8" fill="#666"/>
<rect x="362.43" y="254.98" width="0.8" height="0.8" fill="#aaa"/>
<rect x="361.47" y="252.17" width="0.8" height="0.8" fill="#444"/>
<rect x="381.23" y="261.8" width="0.8" height="0.8" fill="#222"/>
<rect x="366.28" y="251.91" width="0.8" height="0.8" fill="#222"/>
<rect x="366.68" y="248.82" width="0.8" height="0.8" fill="#222"/>
<rect x="386.97" y="251.93" width="0.8" height="0.8" fill="#222"/>
<rect x="396.91" y="251.83" width="0.8" height="0.8" fill="#222"/>
<rect x="377.63" y="249.42" width="0.8" height="0.8" fill="#888"/>
<rect x="381.16" y="252.58" width="0.8" height="0.8" fill="#444"/>
<rect x="383.64" y="250.02" width="0.8" height="0.8" fill="#666"/>
<rect x="361.75" y="252.05" width="0.8" height="0.8" fill="#aaa"/>
<rect x="369.83" y="252.22" width="0.8" height="0.8" fill="#888"/>
<rect x="372.76" y="248.37" width="0.8" height="0.8" fill="#666"/>
<rect x="408.46" y="257.45" width="0.8" height="0.8" fill="#666"/>
<rect x="397.29" y="251.59" width="0.8" height="0.8" fill="#444"/>
<rect x="376.43" y="250.47" width="0.8" height="0.8" fill="#aaa"/>
<rect x="365.07" y="256.8" width="0.8" height="0.8" fill="#444"/>
<rect x="383.13" y="254.78" width="0.8" height="0.8" fill="#222"/>
<rect x="373.23" y="252.66" width="0.8" height="0.8" fill="#222"/>
<rect x="390.92" y="255.43" width="0.8" height="0.8" fill="#888"/>
<rect x="376.64" y="250.97" width="0.8" height="0.8" fill="#444"/>
<rect x="361.99" y="257.87" width="0.8" height="0.8" fill="#222"/>
<rect x="361.57" y="250.48" width="0.8" height="0.8" fill="#aaa"/>
<rect x="370.7" y="248.48" width="0.8" height="0.8" fill="#888"/>
<rect x="378.28" y="250.29" width="0.8" height="0.8" fill="#444"/>
<rect x="392.49" y="258.92" width="0.8" height="0.8" fill="#888"/>
<rect x="375.51" y="253.6" width="0.8" height="0.8" fill="#444"/>
<rect x="385.45" y="252.1" width="0.8" height="0.8" fill="#888"/>
<rect x="368.49" y="252.06" width="0.8" height="0.8" fill="#888"/>
<rect x="382.94" y="252.41" width="0.8" height="0.8" fill="#444"/>
<rect x="372.52" y="247.79" width="0.8" height="0.8" fill="#222"/>
<rect x="388.03" y="250.26" width="0.8" height="0.8" fill="#222"/>
<rect x="364.3" y="258.82" width="0.8" height="0.8" fill="#444"/>
<rect x="406.15" y="253.88" width="0.8" height="0.8" fill="#222"/>
<rect x="367.83" y="252.87" width="0.8" height="0.8" fill="#222"/>
<rect x="370.27" y="252.12" width="0.8" height="0.8" fill="#888"/>
<rect x="364.26" y="253.87" width="0.8" height="0.8" fill="#222"/>
<rect x="376.15" y="255.94" width="0.8" height="0.8" fill="#888"/>
<rect x="395.92" y="255.92" width="0.8" height="0.8" fill="#666"/>
<rect x="389.12" y="248.45" width="0.8" height="0.8" fill="#aaa"/>
<rect x="387.68" y="251.37" width="0.8" height="0.8" fill="#888"/>
<rect x="398.61" y="254.57" width="0.8" height="0.8" fill="#444"/>
<rect x="402.65" y="257.91" width="0.8" height="0.8" fill="#aaa"/>
<rect x="380.67" y="253.69" width="0.8" height="0.8" fill="#222"/>
<rect x="373.66" y="248.04" width="0.8" height="0.8" fill="#222"/>
<rect x="373.58" y="251.87" width="0.8" height="0.8" fill="#aaa"/>
<rect x="374.58" y="254.63" width="0.8" height="0.8" fill="#aaa"/>
<rect x="394.32" y="254.83" width="0.8" height="0.8" fill="#aaa"/>
<rect x="386.4" y="249.6" width="0.8" height="0.8" fill="#444"/>
<rect x="397.88" y="253.22" width="0.8" height="0.8" fill="#888"/>
<rect x="372.23" y="247.74" width="0.8" height="0.8" fill="#888"/>
<rect x="371.72" y="249.18" width="0.8" height="0.8" fill="#aaa"/>
<rect x="361.98" y="250.85" width="0.8" height="0.8" fill="#222"/>
<rect x="361.62" y="248.29" width="0.8" height="0.8" fill="#444"/>
<rect x="373.62" y="250.43" width="0.8" height="0.8" fill="#aaa"/>
<rect x="392.09" y="244.59" width="0.8" height="0.8" fill="#222"/>
<rect x="371.84" y="253.14" width="0.8" height="0.8" fill="#222"/>
<rect x="367.27" y="259.54" width="0.8" height="0.8" fill="#222"/>
<rect x="374.22" y="247.97" width="0.8" height="0.8" fill="#888"/>
<rect x="401.51" y="251.34" width="0.8" height="0.8" fill="#444"/>
<rect x="369.82" y="257.68" width="0.8" height="0.8" fill="#222"/>
<rect x="362.45" y="252.84" width="0.8" height="0.8" fill="#444"/>
<rect x="372.6" y="257.21" width="0.8" height="0.8" fill="#aaa"/>
<rect x="408.4" y="249.86" width="0.8" height="0.8" fill="#888"/>
<rect x="387.54" y="240.15" width="0.8" height="0.8" fill="#aaa"/>
<rect x="386.96" y="242.54" width="0.8" height="0.8" fill="#222"/>
<rect x="395.28" y="247.64" width="0.8" height="0.8" fill="#555"/>
<rect x="391.71" y="234.23" width="0.8" height="0.8" fill="#888"/>
<rect x="369.12" y="235.4" width="0.8" height="0.8" fill="#aaa"/>
<rect x="371.57" y="242.12" width="0.8" height="0.8" fill="#555"/>
<rect x="389.05" y="243.66" width="0.8" height="0.8" fill="#555"/>
<rect x="396.2" y="246.71" width="0.8" height="0.8" fill="#aaa"/>
<rect x="373.05" y="234.68" width="0.8" height="0.8" fill="#aaa"/>
<rect x="394.23" y="245.43" width="0.8" height="0.8" fill="#aaa"/>
<rect x="376.08" y="243.46" width="0.8" height="0.8" fill="#555"/>
<rect x="367.95" y="239.14" width="0.8" height="0.8" fill="#aaa"/>
<rect x="365.65" y="240.03" width="0.8" height="0.8" fill="#555"/>
<rect x="384.51" y="243.48" width="0.8" height="0.8" fill="#aaa"/>
<rect x="388.4" y="240.12" width="0.8" height="0.8" fill="#888"/>
<rect x="393.96" y="239.53" width="0.8" height="0.8" fill="#aaa"/>
<rect x="407.6" y="237.26" width="0.8" height="0.8" fill="#888"/>
<rect x="392.75" y="239.48" width="0.8" height="0.8" fill="#aaa"/>
<rect x="369.78" y="234.18" width="0.8" height="0.8" fill="#aaa"/>
<rect x="389.99" y="242.63" width="0.8" height="0.8" fill="#888"/>
<rect x="389.8" y="241.28" width="0.8" height="0.8" fill="#aaa"/>
<rect x="393.06" y="235.01" width="0.8" height="0.8" fill="#888"/>
<rect x="328.5" y="173.4" width="107.7" height="91.9" fill="none" stroke="#333" stroke-width="1"/>
<rect x="359.8" y="227.7" width="55.2" height="36.4" fill="none" stroke="#111" stroke-width="1.3"/>
<text x="128.55" y="164.7" font-size="13.9" text-anchor="middle" font-weight="bold" fill="#000">SA</text>
<text x="255" y="164.7" font-size="13.9" text-anchor="middle" font-weight="bold" fill="#000">FLU/SA</text>
<text x="381.5" y="164.7" font-size="13.9" text-anchor="middle" font-weight="bold" fill="#000">FLU</text>
<text class="r" transform="translate(58.8,218.1) rotate(-90)" font-size="10" text-anchor="middle" font-weight="bold" textLength="68.3" lengthAdjust="spacingAndGlyphs">SSC-A (x1000)</text>
<text x="94.8" y="294.2" font-size="10.4" text-anchor="middle" font-weight="bold" fill="#000" textLength="31.4" lengthAdjust="spacingAndGlyphs">IL-17A</text>
<path d="M117.5,288.5 L136,288.5 L136,286.6 L142.2,290.2 L136,293.8 L136,291.9 L117.5,291.9 A1.7,1.7 0 0 1 117.5,288.5 Z" fill="#000"/>
<text x="0.2" y="328.6" font-size="20" text-anchor="start" font-weight="normal" fill="#000">C</text>
<line x1="48.3" y1="319.8" x2="48.3" y2="433.6" stroke="#828282" stroke-width="1"/>
<line x1="46.1" y1="433.6" x2="48.3" y2="433.6" stroke="#828282" stroke-width="1"/>
<line x1="46.1" y1="405.12" x2="48.3" y2="405.12" stroke="#828282" stroke-width="1"/>
<line x1="46.1" y1="376.65" x2="48.3" y2="376.65" stroke="#828282" stroke-width="1"/>
<line x1="46.1" y1="348.18" x2="48.3" y2="348.18" stroke="#828282" stroke-width="1"/>
<line x1="46.1" y1="319.7" x2="48.3" y2="319.7" stroke="#828282" stroke-width="1"/>
<text x="43.6" y="435.34" font-size="9.9" text-anchor="end" font-weight="bold" fill="#000" textLength="11.9" lengthAdjust="spacingAndGlyphs">0.0</text>
<text x="43.6" y="406.87" font-size="9.9" text-anchor="end" font-weight="bold" fill="#000" textLength="11.9" lengthAdjust="spacingAndGlyphs">0.1</text>
<text x="43.6" y="378.39" font-size="9.9" text-anchor="end" font-weight="bold" fill="#000" textLength="11.9" lengthAdjust="spacingAndGlyphs">0.2</text>
<text x="43.6" y="349.92" font-size="9.9" text-anchor="end" font-weight="bold" fill="#000" textLength="11.9" lengthAdjust="spacingAndGlyphs">0.3</text>
<text x="43.6" y="321.44" font-size="9.9" text-anchor="end" font-weight="bold" fill="#000" textLength="11.9" lengthAdjust="spacingAndGlyphs">0.4</text>
<line x1="48.3" y1="433.6" x2="262.5" y2="433.6" stroke="#828282" stroke-width="1"/>
<line x1="120.5" y1="433.6" x2="120.5" y2="436.6" stroke="#828282" stroke-width="1"/>
<line x1="191.4" y1="433.6" x2="191.4" y2="436.6" stroke="#828282" stroke-width="1"/>
<line x1="262.5" y1="433.6" x2="262.5" y2="436.6" stroke="#828282" stroke-width="1"/>
<line x1="84.15" y1="387" x2="84.15" y2="392.3" stroke="#888" stroke-width="1"/>
<line x1="82.05" y1="387" x2="86.25" y2="387" stroke="#444" stroke-width="1.1"/>
<rect x="69.4" y="392.3" width="29.5" height="41.3" fill="#000"/>
<line x1="155.6" y1="327.1" x2="155.6" y2="345.6" stroke="#888" stroke-width="1"/>
<line x1="153.5" y1="327.1" x2="157.7" y2="327.1" stroke="#444" stroke-width="1.1"/>
<rect x="141.3" y="345.6" width="28.6" height="88" fill="#000"/>
<line x1="227.45" y1="398.8" x2="227.45" y2="405" stroke="#888" stroke-width="1"/>
<line x1="225.35" y1="398.8" x2="229.55" y2="398.8" stroke="#444" stroke-width="1.1"/>
<rect x="212.9" y="405" width="29.1" height="28.6" fill="#000"/>
<polygon points="228.2,386.6 229.02,388.57 231.15,388.74 229.53,390.13 230.02,392.21 228.2,391.1 226.38,392.21 226.87,390.13 225.25,388.74 227.38,388.57" fill="#000"/>
<text x="84.57" y="447.7" font-size="9.3" text-anchor="middle" font-weight="bold" fill="#000">FLU</text>
<text x="156.75" y="447.7" font-size="9.3" text-anchor="middle" font-weight="bold" fill="#000">SA</text>
<text x="228.3" y="447.7" font-size="9.3" text-anchor="middle" font-weight="bold" fill="#000">FLU/SA</text>
<text class="r" transform="translate(21,376.6) rotate(-90)" font-size="8.8" text-anchor="middle" font-weight="bold" textLength="80.3" lengthAdjust="spacingAndGlyphs">% Positive Cells</text>
<text x="254.6" y="327.6" font-size="20" text-anchor="start" font-weight="normal" fill="#000">D</text>
<line x1="293.6" y1="313.5" x2="293.6" y2="433.4" stroke="#828282" stroke-width="1"/>
<line x1="291.4" y1="433.4" x2="293.6" y2="433.4" stroke="#828282" stroke-width="1"/>
<line x1="291.4" y1="399.52" x2="293.6" y2="399.52" stroke="#828282" stroke-width="1"/>
<line x1="291.4" y1="365.64" x2="293.6" y2="365.64" stroke="#828282" stroke-width="1"/>
<line x1="291.4" y1="331.76" x2="293.6" y2="331.76" stroke="#828282" stroke-width="1"/>
<line x1="291.84" y1="416.46" x2="293.6" y2="416.46" stroke="#828282" stroke-width="1"/>
<line x1="291.84" y1="382.58" x2="293.6" y2="382.58" stroke="#828282" stroke-width="1"/>
<line x1="291.84" y1="348.7" x2="293.6" y2="348.7" stroke="#828282" stroke-width="1"/>
<line x1="291.84" y1="314.82" x2="293.6" y2="314.82" stroke="#828282" stroke-width="1"/>
<text x="288.8" y="435.09" font-size="9.2" text-anchor="end" font-weight="bold" fill="#000">0</text>
<text x="288.8" y="401.21" font-size="9.2" text-anchor="end" font-weight="bold" fill="#000">4</text>
<text x="288.8" y="367.33" font-size="9.2" text-anchor="end" font-weight="bold" fill="#000">8</text>
<text x="288.8" y="333.45" font-size="9.2" text-anchor="end" font-weight="bold" fill="#000">12</text>
<line x1="293.6" y1="433.4" x2="518" y2="433.4" stroke="#828282" stroke-width="1"/>
<line x1="369.2" y1="433.4" x2="369.2" y2="436.4" stroke="#828282" stroke-width="1"/>
<line x1="443.7" y1="433.4" x2="443.7" y2="436.4" stroke="#828282" stroke-width="1"/>
<line x1="518" y1="433.4" x2="518" y2="436.4" stroke="#828282" stroke-width="1"/>
<line x1="314.35" y1="422.5" x2="314.35" y2="425.2" stroke="#666" stroke-width="1"/>
<line x1="312.55" y1="422.5" x2="316.15" y2="422.5" stroke="#333" stroke-width="1.1"/>
<rect x="306.5" y="425.7" width="15.7" height="7.7" fill="#fff" stroke="#606060" stroke-width="1"/>
<line x1="331.2" y1="415.8" x2="331.2" y2="421.2" stroke="#666" stroke-width="1"/>
<line x1="329.4" y1="415.8" x2="333" y2="415.8" stroke="#333" stroke-width="1.1"/>
<rect x="322.7" y="421.2" width="17" height="12.2" fill="#000"/>
<line x1="348.3" y1="418" x2="348.3" y2="423.3" stroke="#666" stroke-width="1"/>
<line x1="346.5" y1="418" x2="350.1" y2="418" stroke="#333" stroke-width="1.1"/>
<rect x="340.2" y="423.8" width="16.2" height="9.6" fill="#c2c2c2" stroke="#7a7a7a" stroke-width="1"/>
<line x1="389.5" y1="423.3" x2="389.5" y2="425.6" stroke="#666" stroke-width="1"/>
<line x1="387.7" y1="423.3" x2="391.3" y2="423.3" stroke="#333" stroke-width="1.1"/>
<rect x="381.8" y="426.1" width="15.4" height="7.3" fill="#fff" stroke="#606060" stroke-width="1"/>
<line x1="406.25" y1="407.2" x2="406.25" y2="410.8" stroke="#666" stroke-width="1"/>
<line x1="404.45" y1="407.2" x2="408.05" y2="407.2" stroke="#333" stroke-width="1.1"/>
<rect x="397.7" y="410.8" width="17.1" height="22.6" fill="#000"/>
<line x1="423.25" y1="403.8" x2="423.25" y2="410" stroke="#666" stroke-width="1"/>
<line x1="421.45" y1="403.8" x2="425.05" y2="403.8" stroke="#333" stroke-width="1.1"/>
<rect x="415.3" y="410.5" width="15.9" height="22.9" fill="#c2c2c2" stroke="#7a7a7a" stroke-width="1"/>
<line x1="464.55" y1="421.2" x2="464.55" y2="423" stroke="#666" stroke-width="1"/>
<line x1="462.75" y1="421.2" x2="466.35" y2="421.2" stroke="#333" stroke-width="1.1"/>
<rect x="456.7" y="423.5" width="15.7" height="9.9" fill="#fff" stroke="#606060" stroke-width="1"/>
<line x1="481.15" y1="388.2" x2="481.15" y2="398.6" stroke="#666" stroke-width="1"/>
<line x1="479.35" y1="388.2" x2="482.95" y2="388.2" stroke="#333" stroke-width="1.1"/>
<rect x="472.9" y="398.6" width="16.5" height="34.8" fill="#000"/>
<line x1="498.15" y1="322.3" x2="498.15" y2="344.7" stroke="#666" stroke-width="1"/>
<line x1="496.35" y1="322.3" x2="499.95" y2="322.3" stroke="#333" stroke-width="1.1"/>
<rect x="489.9" y="345.2" width="16.5" height="88.2" fill="#c2c2c2" stroke="#7a7a7a" stroke-width="1"/>
<polygon points="402.8,397.3 403.62,399.27 405.75,399.44 404.13,400.83 404.62,402.91 402.8,401.8 400.98,402.91 401.47,400.83 399.85,399.44 401.98,399.27" fill="#000"/>
<polygon points="408.2,397.3 409.02,399.27 411.15,399.44 409.53,400.83 410.02,402.91 408.2,401.8 406.38,402.91 406.87,400.83 405.25,399.44 407.38,399.27" fill="#000"/>
<polygon points="422.7,395.1 423.52,397.07 425.65,397.24 424.03,398.63 424.52,400.71 422.7,399.6 420.88,400.71 421.37,398.63 419.75,397.24 421.88,397.07" fill="#000"/>
<text x="331.3" y="448.8" font-size="8.6" text-anchor="middle" font-weight="bold" fill="#000">FLU</text>
<text x="406.5" y="448.8" font-size="8.6" text-anchor="middle" font-weight="bold" fill="#000">FLU/SA</text>
<text x="479.2" y="448.8" font-size="8.6" text-anchor="middle" font-weight="bold" fill="#000">SA</text>
<rect x="305.7" y="318.3" width="3.7" height="3.8" fill="#fff" stroke="#000" stroke-width="0.9"/>
<text x="315.2" y="323.5" font-size="8.4" text-anchor="start" font-weight="bold" fill="#000" textLength="24" lengthAdjust="spacingAndGlyphs">ROR<tspan font-family="Liberation Serif" font-weight="normal" font-size="9.6" style="stroke-width:0.2px">&#945;</tspan></text>
<rect x="305.7" y="328.5" width="3.7" height="3.8" fill="#000" stroke="#000" stroke-width="0.9"/>
<text x="315.2" y="333.7" font-size="8.4" text-anchor="start" font-weight="bold" fill="#000" textLength="26.9" lengthAdjust="spacingAndGlyphs">ROR<tspan font-family="Liberation Serif" font-weight="normal" font-size="9.6" style="stroke-width:0.2px">&#947;</tspan>T</text>
<rect x="305.7" y="339" width="3.7" height="3.8" fill="#c2c2c2" stroke="#666" stroke-width="0.9"/>
<text x="315.2" y="344.2" font-size="8.4" text-anchor="start" font-weight="bold" fill="#000" textLength="19.2" lengthAdjust="spacingAndGlyphs">IL-23</text>
<text class="r" transform="translate(271.2,381.4) rotate(-90)" font-size="8.3" text-anchor="middle" font-weight="bold" textLength="80.8" lengthAdjust="spacingAndGlyphs">Relative Expression</text>
<text x="-0.4" y="481.9" font-size="20" text-anchor="start" font-weight="normal" fill="#000">E</text>
<line x1="44" y1="471.2" x2="44" y2="592.4" stroke="#828282" stroke-width="1"/>
<line x1="41.8" y1="592.4" x2="44" y2="592.4" stroke="#828282" stroke-width="1"/>
<line x1="41.8" y1="552" x2="44" y2="552" stroke="#828282" stroke-width="1"/>
<line x1="41.8" y1="511.6" x2="44" y2="511.6" stroke="#828282" stroke-width="1"/>
<line x1="41.8" y1="471.2" x2="44" y2="471.2" stroke="#828282" stroke-width="1"/>
<line x1="42.24" y1="572.2" x2="44" y2="572.2" stroke="#828282" stroke-width="1"/>
<line x1="42.24" y1="531.8" x2="44" y2="531.8" stroke="#828282" stroke-width="1"/>
<line x1="42.24" y1="491.4" x2="44" y2="491.4" stroke="#828282" stroke-width="1"/>
<text x="36.4" y="594.7" font-size="9.5" text-anchor="end" font-weight="bold" fill="#000">0</text>
<text x="36.4" y="554.3" font-size="9.5" text-anchor="end" font-weight="bold" fill="#000">1</text>
<text x="36.4" y="513.9" font-size="9.5" text-anchor="end" font-weight="bold" fill="#000">2</text>
<text x="36.4" y="473.5" font-size="9.5" text-anchor="end" font-weight="bold" fill="#000">3</text>
<line x1="44" y1="592.4" x2="268" y2="592.4" stroke="#828282" stroke-width="1"/>
<line x1="118.9" y1="592.4" x2="118.9" y2="595.4" stroke="#828282" stroke-width="1"/>
<line x1="194" y1="592.4" x2="194" y2="595.4" stroke="#828282" stroke-width="1"/>
<line x1="268" y1="592.4" x2="268" y2="595.4" stroke="#828282" stroke-width="1"/>
<line x1="70.4" y1="536.4" x2="70.4" y2="548.2" stroke="#555" stroke-width="1"/>
<line x1="68.3" y1="536.4" x2="72.5" y2="536.4" stroke="#333" stroke-width="1.1"/>
<rect x="59.9" y="548.7" width="21" height="43.7" fill="#fff" stroke="#666" stroke-width="1"/>
<line x1="92.05" y1="557.2" x2="92.05" y2="568.2" stroke="#666" stroke-width="1"/>
<line x1="89.95" y1="557.2" x2="94.15" y2="557.2" stroke="#333" stroke-width="1.1"/>
<rect x="81.4" y="568.2" width="21.3" height="24.2" fill="#000"/>
<line x1="145.3" y1="562.5" x2="145.3" y2="567.4" stroke="#555" stroke-width="1"/>
<line x1="143.2" y1="562.5" x2="147.4" y2="562.5" stroke="#333" stroke-width="1.1"/>
<rect x="134.9" y="567.9" width="20.8" height="24.5" fill="#fff" stroke="#666" stroke-width="1"/>
<line x1="166.75" y1="578.3" x2="166.75" y2="581.2" stroke="#666" stroke-width="1"/>
<line x1="164.65" y1="578.3" x2="168.85" y2="578.3" stroke="#333" stroke-width="1.1"/>
<rect x="156.2" y="581.2" width="21.1" height="11.2" fill="#000"/>
<line x1="220.15" y1="482.7" x2="220.15" y2="503.5" stroke="#555" stroke-width="1"/>
<line x1="218.05" y1="482.7" x2="222.25" y2="482.7" stroke="#333" stroke-width="1.1"/>
<rect x="209.9" y="504" width="20.5" height="88.4" fill="#fff" stroke="#666" stroke-width="1"/>
<line x1="241.8" y1="504.3" x2="241.8" y2="512.3" stroke="#666" stroke-width="1"/>
<line x1="239.7" y1="504.3" x2="243.9" y2="504.3" stroke="#333" stroke-width="1.1"/>
<rect x="230.9" y="512.3" width="21.8" height="80.1" fill="#000"/>
<polygon points="145.3,552.2 146.12,554.17 148.25,554.34 146.63,555.73 147.12,557.81 145.3,556.7 143.48,557.81 143.97,555.73 142.35,554.34 144.48,554.17" fill="#000"/>
<polygon points="165.4,568.1 166.22,570.07 168.35,570.24 166.73,571.63 167.22,573.71 165.4,572.6 163.58,573.71 164.07,571.63 162.45,570.24 164.58,570.07" fill="#000"/>
<text x="80.25" y="605.7" font-size="8.6" text-anchor="middle" font-weight="bold" fill="#000">FLU</text>
<text x="157.2" y="605.7" font-size="8.6" text-anchor="middle" font-weight="bold" fill="#000">FLU/SA</text>
<text x="231.3" y="605.7" font-size="8.6" text-anchor="middle" font-weight="bold" fill="#000">SA</text>
<rect x="55.8" y="474.7" width="3.7" height="3.8" fill="#fff" stroke="#000" stroke-width="0.9"/>
<text x="64.7" y="479.7" font-size="8.4" text-anchor="start" font-weight="bold" fill="#000" textLength="25" lengthAdjust="spacingAndGlyphs">IL-17A</text>
<rect x="55.8" y="484.6" width="3.7" height="3.8" fill="#000" stroke="#000" stroke-width="0.9"/>
<text x="64.7" y="489.6" font-size="8.4" text-anchor="start" font-weight="bold" fill="#000" textLength="19.2" lengthAdjust="spacingAndGlyphs">IL-22</text>
<text class="r" transform="translate(23,530.15) rotate(-90)" font-size="8.4" text-anchor="middle" font-weight="bold" textLength="81.9" lengthAdjust="spacingAndGlyphs">Relative Expression</text>
<text x="266.2" y="481.9" font-size="20" text-anchor="start" font-weight="normal" fill="#000">F</text>
<line x1="311.6" y1="477.1" x2="311.6" y2="589" stroke="#828282" stroke-width="1"/>
<line x1="309.8" y1="566.66" x2="311.6" y2="566.66" stroke="#828282" stroke-width="1"/>
<line x1="309.8" y1="544.32" x2="311.6" y2="544.32" stroke="#828282" stroke-width="1"/>
<line x1="309.8" y1="521.98" x2="311.6" y2="521.98" stroke="#828282" stroke-width="1"/>
<line x1="309.8" y1="499.64" x2="311.6" y2="499.64" stroke="#828282" stroke-width="1"/>
<line x1="309.8" y1="477.3" x2="311.6" y2="477.3" stroke="#828282" stroke-width="1"/>
<line x1="310.16" y1="577.83" x2="311.6" y2="577.83" stroke="#828282" stroke-width="1"/>
<line x1="310.16" y1="555.49" x2="311.6" y2="555.49" stroke="#828282" stroke-width="1"/>
<line x1="310.16" y1="533.15" x2="311.6" y2="533.15" stroke="#828282" stroke-width="1"/>
<line x1="310.16" y1="510.81" x2="311.6" y2="510.81" stroke="#828282" stroke-width="1"/>
<line x1="310.16" y1="488.47" x2="311.6" y2="488.47" stroke="#828282" stroke-width="1"/>
<text x="307.6" y="591.44" font-size="8.2" text-anchor="end" font-weight="bold" fill="#000">0</text>
<text x="307.6" y="569.1" font-size="8.2" text-anchor="end" font-weight="bold" fill="#000">1000</text>
<text x="307.6" y="546.76" font-size="8.2" text-anchor="end" font-weight="bold" fill="#000">2000</text>
<text x="307.6" y="524.42" font-size="8.2" text-anchor="end" font-weight="bold" fill="#000">3000</text>
<text x="307.6" y="502.08" font-size="8.2" text-anchor="end" font-weight="bold" fill="#000">4000</text>
<text x="307.6" y="479.74" font-size="8.2" text-anchor="end" font-weight="bold" fill="#000">5000</text>
<line x1="311.6" y1="589" x2="510.4" y2="589" stroke="#828282" stroke-width="1"/>
<line x1="378" y1="589" x2="378" y2="592" stroke="#828282" stroke-width="1"/>
<line x1="444.6" y1="589" x2="444.6" y2="592" stroke="#828282" stroke-width="1"/>
<line x1="510.4" y1="589" x2="510.4" y2="592" stroke="#828282" stroke-width="1"/>
<line x1="330.1" y1="584.5" x2="330.1" y2="585.6" stroke="#555" stroke-width="1"/>
<line x1="328.3" y1="584.5" x2="331.9" y2="584.5" stroke="#333" stroke-width="1.1"/>
<rect x="323.2" y="586.1" width="13.8" height="2.9" fill="#fff" stroke="#606060" stroke-width="1"/>
<line x1="344.9" y1="585.4" x2="344.9" y2="586.4" stroke="#555" stroke-width="1"/>
<line x1="343.1" y1="585.4" x2="346.7" y2="585.4" stroke="#333" stroke-width="1.1"/>
<rect x="337.5" y="586.4" width="14.8" height="2.6" fill="#000"/>
<rect x="352.8" y="588.6" width="13.7" height="0.4" fill="#c2c2c2" stroke="#7a7a7a" stroke-width="1"/>
<line x1="396.8" y1="559.1" x2="396.8" y2="566.2" stroke="#555" stroke-width="1"/>
<line x1="395" y1="559.1" x2="398.6" y2="559.1" stroke="#333" stroke-width="1.1"/>
<rect x="389.7" y="566.7" width="14.2" height="22.3" fill="#fff" stroke="#606060" stroke-width="1"/>
<line x1="411.65" y1="583.4" x2="411.65" y2="585" stroke="#555" stroke-width="1"/>
<line x1="409.85" y1="583.4" x2="413.45" y2="583.4" stroke="#333" stroke-width="1.1"/>
<rect x="404.4" y="585" width="14.5" height="4" fill="#000"/>
<line x1="426.4" y1="586.4" x2="426.4" y2="587.1" stroke="#555" stroke-width="1"/>
<line x1="424.6" y1="586.4" x2="428.2" y2="586.4" stroke="#333" stroke-width="1.1"/>
<rect x="419.4" y="587.6" width="14" height="1.4" fill="#c2c2c2" stroke="#7a7a7a" stroke-width="1"/>
<line x1="463.3" y1="481.9" x2="463.3" y2="497.5" stroke="#555" stroke-width="1"/>
<line x1="461.5" y1="481.9" x2="465.1" y2="481.9" stroke="#333" stroke-width="1.1"/>
<rect x="456.1" y="498" width="14.4" height="91" fill="#fff" stroke="#606060" stroke-width="1"/>
<line x1="478.2" y1="579.4" x2="478.2" y2="581" stroke="#555" stroke-width="1"/>
<line x1="476.4" y1="579.4" x2="480" y2="579.4" stroke="#333" stroke-width="1.1"/>
<rect x="471" y="581" width="14.4" height="8" fill="#000"/>
<line x1="492.6" y1="585.8" x2="492.6" y2="586.4" stroke="#555" stroke-width="1"/>
<line x1="490.8" y1="585.8" x2="494.4" y2="585.8" stroke="#333" stroke-width="1.1"/>
<rect x="485.9" y="586.9" width="13.4" height="2.1" fill="#c2c2c2" stroke="#7a7a7a" stroke-width="1"/>
<polygon points="395.8,550.4 396.62,552.37 398.75,552.54 397.13,553.93 397.62,556.01 395.8,554.9 393.98,556.01 394.47,553.93 392.85,552.54 394.98,552.37" fill="#000"/>
<polygon points="411.5,572.6 412.32,574.57 414.45,574.74 412.83,576.13 413.32,578.21 411.5,577.1 409.68,578.21 410.17,576.13 408.55,574.74 410.68,574.57" fill="#000"/>
<polygon points="425.4,576.8 426.22,578.77 428.35,578.94 426.73,580.33 427.22,582.41 425.4,581.3 423.58,582.41 424.07,580.33 422.45,578.94 424.58,578.77" fill="#000"/>
<text x="345.4" y="599.9" font-size="8.2" text-anchor="middle" font-weight="bold" fill="#000">FLU</text>
<text x="413.55" y="599.9" font-size="8.2" text-anchor="middle" font-weight="bold" fill="#000">FLU/SA</text>
<text x="477" y="599.9" font-size="8.2" text-anchor="middle" font-weight="bold" fill="#000">SA</text>
<rect x="321.6" y="484.4" width="3.4" height="3.3" fill="#fff" stroke="#000" stroke-width="0.9"/>
<text x="329.7" y="488.8" font-size="8" text-anchor="start" font-weight="bold" fill="#000" textLength="25.4" lengthAdjust="spacingAndGlyphs">G-CSF</text>
<rect x="321.6" y="495.5" width="3.4" height="3.3" fill="#000" stroke="#000" stroke-width="0.9"/>
<text x="329.7" y="499.9" font-size="8" text-anchor="start" font-weight="bold" fill="#000" textLength="11.3" lengthAdjust="spacingAndGlyphs">KC</text>
<rect x="321.6" y="506.1" width="3.4" height="3.3" fill="#c2c2c2" stroke="#666" stroke-width="0.9"/>
<text x="329.7" y="510.5" font-size="8" text-anchor="start" font-weight="bold" fill="#000" textLength="18.7" lengthAdjust="spacingAndGlyphs">IL-1<tspan font-family="Liberation Serif" font-weight="normal" font-size="9.2" style="stroke-width:0.2px">&#946;</tspan></text>
<text class="r" transform="translate(283.4,527.9) rotate(-90)" font-size="8.2" text-anchor="middle" font-weight="bold" textLength="63.4" lengthAdjust="spacingAndGlyphs">Cytokine (pg/ml)</text>
</svg>
</body></html>
